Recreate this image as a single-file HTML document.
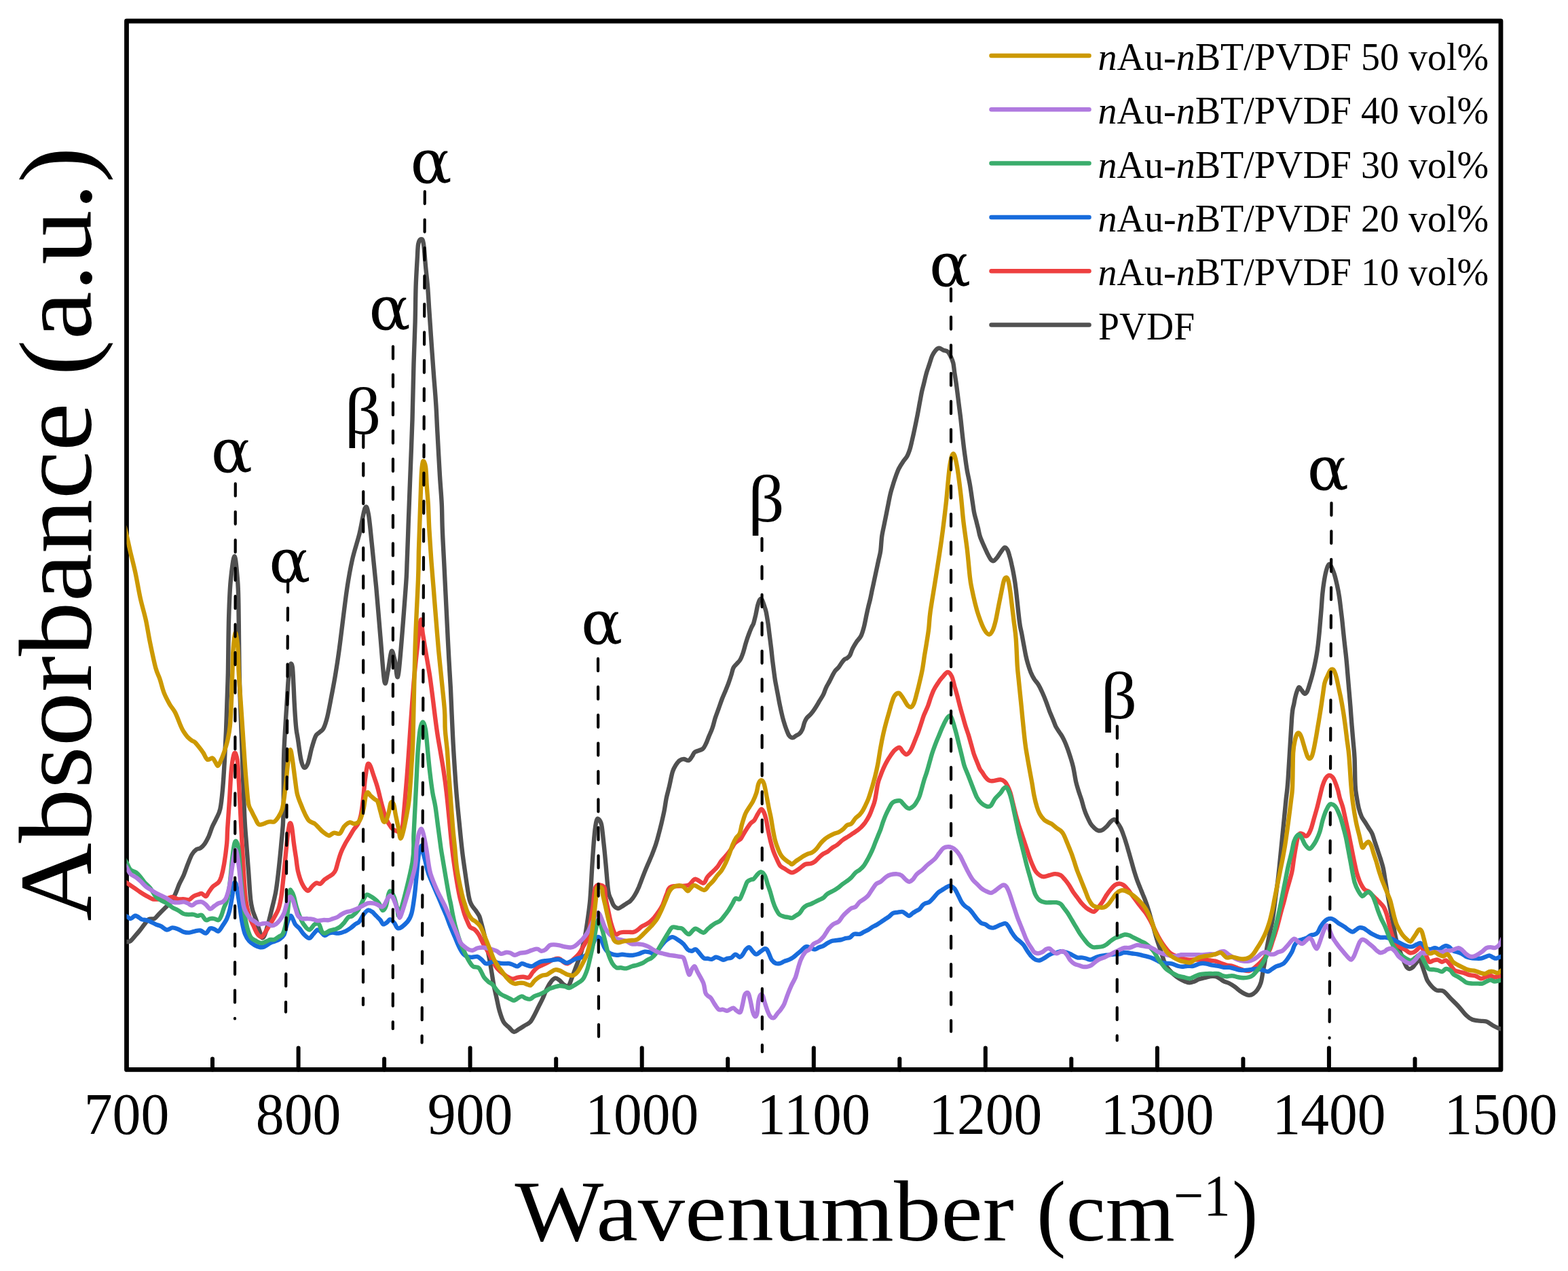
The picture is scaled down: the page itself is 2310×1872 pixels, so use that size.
<!DOCTYPE html>
<html><head><meta charset="utf-8"><title>FTIR spectra</title>
<style>
html,body{margin:0;padding:0;background:#fff;}
svg{display:block;}
text{font-family:'Liberation Serif', 'DejaVu Serif', serif;fill:#000;}
</style></head><body>
<svg xmlns="http://www.w3.org/2000/svg" width="2310" height="1872" viewBox="0 0 2310 1872">
<rect x="0" y="0" width="2310" height="1872" fill="#fff"/>

<defs><clipPath id="pc"><rect x="186.5" y="31.0" width="2024.5" height="1544.4"/></clipPath></defs>
<rect x="186.5" y="31.0" width="2024.5" height="1544.4" fill="none" stroke="#000" stroke-width="6.8" stroke-linejoin="round"/>
<g stroke="#000" stroke-width="6" stroke-linecap="round"><line x1="313.0" y1="1575.4" x2="313.0" y2="1559.4"/><line x1="439.6" y1="1575.4" x2="439.6" y2="1543.4"/><line x1="566.1" y1="1575.4" x2="566.1" y2="1559.4"/><line x1="692.6" y1="1575.4" x2="692.6" y2="1543.4"/><line x1="819.2" y1="1575.4" x2="819.2" y2="1559.4"/><line x1="945.7" y1="1575.4" x2="945.7" y2="1543.4"/><line x1="1072.2" y1="1575.4" x2="1072.2" y2="1559.4"/><line x1="1198.8" y1="1575.4" x2="1198.8" y2="1543.4"/><line x1="1325.3" y1="1575.4" x2="1325.3" y2="1559.4"/><line x1="1451.8" y1="1575.4" x2="1451.8" y2="1543.4"/><line x1="1578.3" y1="1575.4" x2="1578.3" y2="1559.4"/><line x1="1704.9" y1="1575.4" x2="1704.9" y2="1543.4"/><line x1="1831.4" y1="1575.4" x2="1831.4" y2="1559.4"/><line x1="1957.9" y1="1575.4" x2="1957.9" y2="1543.4"/><line x1="2084.5" y1="1575.4" x2="2084.5" y2="1559.4"/></g>
<g clip-path="url(#pc)" fill="none" stroke-width="6.4" stroke-linejoin="round" stroke-linecap="round">
<path d="M184.0,1387.6 C184.5,1387.5 185.8,1387.3 187.2,1387.0 C188.6,1386.7 190.1,1387.7 192.3,1385.9 C194.6,1384.2 198.2,1379.4 200.6,1376.7 C203.0,1374.0 204.7,1372.1 206.7,1369.5 C208.8,1366.9 210.8,1363.8 212.9,1361.3 C215.0,1358.7 216.7,1355.5 219.1,1354.1 C221.5,1352.7 224.9,1354.3 227.3,1353.1 C229.7,1351.9 231.1,1349.3 233.5,1346.9 C235.9,1344.5 238.9,1341.4 241.7,1338.7 C244.4,1335.9 247.2,1334.0 249.9,1330.4 C252.6,1326.8 255.7,1321.9 258.1,1317.1 C260.5,1312.3 262.2,1306.3 264.3,1301.7 C266.3,1297.0 268.4,1294.1 270.5,1289.3 C272.5,1284.5 274.6,1278.0 276.6,1272.9 C278.7,1267.7 280.7,1262.1 282.8,1258.5 C284.9,1254.9 286.9,1252.8 289.0,1251.3 C291.0,1249.7 293.1,1250.6 295.1,1249.2 C297.2,1247.9 299.2,1246.0 301.3,1243.1 C303.4,1240.1 305.5,1236.0 307.5,1231.8 C309.4,1227.5 311.0,1221.6 312.9,1217.3 C314.8,1213.0 316.7,1210.1 318.6,1205.8 C320.5,1201.5 322.8,1198.6 324.4,1191.4 C326.0,1184.2 326.9,1174.7 328.0,1162.7 C329.1,1150.7 330.1,1133.9 330.9,1119.5 C331.7,1105.1 332.4,1090.7 333.0,1076.3 C333.6,1061.9 334.0,1047.6 334.5,1033.2 C335.0,1018.8 335.4,1011.0 335.9,990.0 C336.3,969.0 336.5,929.7 337.2,907.3 C337.9,884.9 338.4,870.1 339.8,855.4 C341.2,840.7 343.8,819.2 345.5,819.2 C347.2,819.2 349.1,843.6 350.1,855.4 C351.1,867.2 351.1,875.6 351.4,890.0 C351.7,904.4 351.8,925.1 352.0,941.8 C352.2,958.5 352.3,974.8 352.6,990.0 C352.9,1005.2 353.3,1016.4 353.9,1033.2 C354.5,1050.0 355.3,1071.5 356.0,1090.7 C356.7,1109.9 357.5,1129.1 358.2,1148.3 C358.9,1167.5 359.6,1190.2 360.4,1205.8 C361.2,1221.4 362.0,1229.1 363.0,1242.0 C363.9,1254.9 365.0,1269.4 366.1,1283.2 C367.1,1296.9 368.1,1314.7 369.1,1324.3 C370.2,1333.9 370.9,1335.6 372.2,1340.7 C373.6,1345.9 375.7,1350.0 377.4,1355.1 C379.1,1360.2 381.1,1367.3 382.5,1371.6 C383.9,1375.8 384.4,1379.8 385.6,1380.8 C386.8,1381.8 388.2,1381.0 389.7,1377.7 C391.2,1374.5 393.1,1367.4 394.8,1361.3 C396.6,1355.1 398.1,1348.6 400.0,1340.7 C401.9,1332.8 404.4,1323.6 406.2,1314.0 C407.9,1304.4 408.9,1295.1 410.3,1283.2 C411.6,1271.2 413.2,1255.7 414.4,1242.0 C415.6,1228.3 416.9,1221.3 417.5,1200.9 C418.1,1180.6 417.6,1140.2 418.0,1120.0 C418.4,1099.8 419.1,1092.6 419.8,1079.8 C420.5,1067.0 421.3,1055.3 422.1,1043.0 C422.9,1030.7 423.7,1015.7 424.4,1006.0 C425.1,996.3 425.8,989.8 426.5,985.0 C427.2,980.2 427.9,977.8 428.6,977.5 C429.3,977.2 430.3,978.2 430.9,983.0 C431.5,987.8 431.9,997.5 432.3,1006.0 C432.8,1014.5 433.2,1025.2 433.6,1033.7 C434.1,1042.2 434.5,1049.9 435.0,1056.8 C435.5,1063.7 435.9,1069.5 436.6,1075.0 C437.3,1080.5 438.0,1082.7 439.1,1090.0 C440.2,1097.3 441.9,1112.1 443.4,1118.8 C444.9,1125.5 446.2,1129.4 447.9,1130.4 C449.6,1131.4 451.6,1129.4 453.5,1124.6 C455.4,1119.8 457.4,1108.2 459.3,1101.5 C461.2,1094.8 463.1,1088.0 465.0,1084.2 C466.9,1080.4 468.9,1080.4 470.8,1078.5 C472.7,1076.6 474.7,1076.5 476.6,1072.7 C478.5,1068.9 480.4,1063.1 482.3,1055.4 C484.2,1047.7 486.2,1036.6 488.1,1026.5 C490.0,1016.4 492.0,1006.5 493.9,995.0 C495.8,983.5 496.7,978.7 499.6,957.6 C502.5,936.5 507.7,891.0 511.0,868.6 C514.3,846.2 516.1,837.1 519.2,823.4 C522.3,809.6 526.4,798.9 529.5,786.3 C532.6,773.8 535.5,753.1 537.7,748.3 C540.0,743.5 541.2,748.5 542.9,757.6 C544.6,766.6 546.1,785.0 548.0,802.8 C549.9,820.6 552.1,842.2 554.2,864.5 C556.2,886.7 558.3,913.1 560.3,936.4 C562.4,959.7 564.6,995.7 566.5,1004.3 C568.4,1012.8 569.9,995.4 571.7,987.8 C573.4,980.3 575.1,961.4 576.8,959.0 C578.5,956.6 580.2,968.0 581.9,973.4 C583.6,978.9 584.5,1009.6 587.1,991.9 C589.7,974.2 595.5,894.9 597.6,867.3 C599.7,839.6 599.0,841.9 599.7,825.8 C600.4,809.7 601.1,789.0 601.7,770.5 C602.4,752.1 602.9,740.7 603.8,715.3 C604.8,689.8 606.5,647.8 607.5,617.8 C608.4,587.9 608.8,559.6 609.5,535.6 C610.2,511.6 611.1,492.8 611.6,473.9 C612.1,455.1 612.1,437.9 612.6,422.5 C613.1,407.1 614.1,392.0 614.7,381.4 C615.3,370.8 615.3,363.6 616.3,358.8 C617.3,353.9 619.6,352.2 620.8,352.2 C622.1,352.2 622.9,352.2 623.9,358.8 C625.0,365.4 626.0,381.1 627.0,391.7 C628.0,402.3 629.2,412.2 630.1,422.5 C630.9,432.8 631.5,443.1 632.1,453.4 C632.8,463.6 633.5,473.9 634.2,484.2 C634.9,494.5 635.4,503.0 636.3,515.0 C637.1,527.0 638.3,542.4 639.3,556.2 C640.4,569.9 641.6,583.6 642.4,597.3 C643.3,611.0 643.5,621.0 644.5,638.4 C645.4,655.8 647.0,684.0 648.0,701.5 C649.1,718.9 650.2,729.8 650.8,742.9 C651.4,756.0 651.2,765.8 651.8,780.0 C652.3,794.2 653.4,812.3 654.2,828.4 C655.0,844.5 655.8,860.6 656.6,876.8 C657.4,892.9 658.2,909.0 659.0,925.2 C659.8,941.3 660.6,958.8 661.5,973.5 C662.3,988.3 662.9,995.3 663.9,1013.9 C664.8,1032.5 666.0,1064.7 667.1,1085.1 C668.1,1105.6 669.2,1121.1 670.2,1136.5 C671.2,1151.9 672.2,1165.6 673.3,1177.6 C674.3,1189.6 675.1,1196.5 676.3,1208.5 C677.5,1220.5 679.1,1237.6 680.5,1249.6 C681.8,1261.6 682.9,1268.6 684.6,1280.4 C686.3,1292.3 689.0,1311.8 690.7,1320.5 C692.4,1329.3 693.1,1329.4 694.8,1332.9 C696.5,1336.3 699.0,1338.3 700.9,1341.1 C702.8,1343.8 704.7,1346.2 706.1,1349.3 C707.4,1352.4 707.9,1355.1 709.1,1359.6 C710.3,1364.0 711.9,1370.2 713.3,1376.0 C714.6,1381.8 716.0,1388.0 717.4,1394.5 C718.7,1401.0 720.3,1408.5 721.5,1415.0 C722.7,1421.5 723.5,1427.4 724.6,1433.5 C725.6,1439.7 726.4,1445.9 727.6,1452.0 C728.8,1458.2 730.4,1464.3 731.7,1470.5 C733.1,1476.7 734.1,1483.2 735.9,1489.0 C737.6,1494.8 739.6,1501.3 742.0,1505.4 C744.4,1509.5 747.7,1511.2 750.2,1513.6 C752.8,1516.0 755.0,1519.5 757.4,1519.8 C759.8,1520.1 762.0,1517.2 764.6,1515.7 C767.2,1514.2 770.1,1512.3 772.8,1510.6 C775.6,1508.8 778.6,1508.0 781.0,1505.4 C783.4,1502.9 785.2,1498.9 787.2,1495.2 C789.3,1491.4 791.3,1486.9 793.4,1482.8 C795.4,1478.7 797.5,1475.0 799.5,1470.5 C801.6,1466.1 803.6,1460.2 805.7,1456.1 C807.7,1452.0 809.8,1448.4 811.9,1445.9 C813.9,1443.3 816.0,1441.1 818.0,1440.7 C820.1,1440.4 822.1,1442.3 824.2,1443.8 C826.2,1445.3 828.1,1448.6 830.3,1450.0 C832.6,1451.3 835.5,1453.7 837.5,1452.0 C839.6,1450.3 840.8,1444.5 842.7,1439.7 C844.6,1434.9 846.8,1428.7 848.8,1423.3 C850.9,1417.8 852.9,1413.7 855.0,1406.8 C857.1,1400.0 859.4,1390.4 861.2,1382.2 C862.9,1374.0 863.9,1367.1 865.3,1357.5 C866.6,1347.9 868.1,1339.2 869.4,1324.7 C870.6,1310.1 871.6,1286.1 872.7,1270.2 C873.8,1254.2 874.7,1239.3 875.8,1229.0 C876.8,1218.8 877.8,1212.2 878.9,1208.5 C879.9,1204.7 880.7,1205.4 881.9,1206.4 C883.1,1207.4 884.9,1209.2 886.1,1214.6 C887.3,1220.1 888.1,1230.1 889.1,1239.3 C890.2,1248.6 891.1,1258.0 892.2,1270.2 C893.4,1282.3 894.8,1303.2 896.1,1312.3 C897.4,1321.4 898.8,1321.1 900.2,1324.7 C901.6,1328.2 902.6,1331.7 904.3,1333.9 C906.0,1336.1 908.4,1337.8 910.5,1338.0 C912.5,1338.2 914.6,1336.1 916.6,1334.9 C918.7,1333.7 920.7,1332.2 922.8,1330.8 C924.8,1329.4 926.9,1328.8 928.9,1326.7 C931.0,1324.7 933.1,1321.9 935.1,1318.5 C937.2,1315.1 939.0,1311.5 941.3,1306.2 C943.5,1300.8 946.7,1291.9 948.8,1286.6 C950.9,1281.3 952.0,1278.7 953.9,1274.3 C955.8,1269.8 958.0,1265.0 960.1,1259.9 C962.1,1254.7 964.5,1248.6 966.2,1243.4 C967.9,1238.3 969.0,1234.2 970.3,1229.0 C971.7,1223.9 973.1,1218.4 974.5,1212.6 C975.8,1206.8 977.4,1200.2 978.6,1194.1 C979.8,1187.9 980.5,1181.4 981.7,1175.6 C982.9,1169.8 984.2,1165.6 985.8,1159.1 C987.3,1152.6 989.2,1142.0 990.9,1136.5 C992.6,1131.0 994.3,1129.0 996.0,1126.2 C997.8,1123.5 999.3,1121.4 1001.2,1120.1 C1003.1,1118.7 1005.1,1118.0 1007.4,1118.0 C1009.6,1118.0 1012.5,1120.8 1014.5,1120.1 C1016.6,1119.4 1018.1,1116.0 1019.7,1113.9 C1021.2,1111.8 1021.2,1109.5 1023.8,1107.7 C1026.4,1105.9 1032.4,1105.2 1035.1,1103.1 C1037.9,1100.9 1038.7,1097.9 1040.3,1094.8 C1041.8,1091.7 1042.8,1088.3 1044.4,1084.5 C1045.9,1080.8 1048.0,1076.7 1049.5,1072.2 C1051.1,1067.8 1052.1,1062.6 1053.6,1057.8 C1055.2,1053.0 1057.1,1048.2 1058.8,1043.4 C1060.5,1038.6 1062.2,1033.5 1063.9,1029.0 C1065.6,1024.6 1067.5,1020.5 1069.1,1016.7 C1070.6,1012.9 1071.8,1010.2 1073.2,1006.4 C1074.5,1002.7 1076.1,997.9 1077.3,994.1 C1078.5,990.3 1079.0,986.6 1080.4,983.8 C1081.7,981.1 1083.8,979.7 1085.5,977.6 C1087.2,975.6 1089.1,974.2 1090.6,971.5 C1092.2,968.7 1093.4,965.3 1094.8,961.2 C1096.1,957.1 1097.5,951.3 1098.9,946.8 C1100.2,942.3 1101.6,938.2 1103.0,934.5 C1104.4,930.7 1105.9,926.9 1107.1,924.2 C1108.3,921.4 1109.2,921.1 1110.2,918.0 C1111.2,914.9 1112.2,910.1 1113.3,905.7 C1114.3,901.2 1115.3,895.1 1116.3,891.3 C1117.4,887.5 1118.4,884.4 1119.4,883.1 C1120.5,881.7 1121.5,881.7 1122.5,883.1 C1123.5,884.4 1124.6,888.2 1125.6,891.3 C1126.6,894.4 1127.7,896.8 1128.7,901.6 C1129.7,906.4 1130.9,914.3 1131.8,920.1 C1132.6,925.9 1133.1,931.0 1133.8,936.5 C1134.5,942.0 1135.2,947.1 1135.9,953.0 C1136.6,958.8 1137.3,965.6 1137.9,971.5 C1138.6,977.3 1139.3,982.8 1140.0,987.9 C1140.7,993.1 1141.2,997.2 1142.0,1002.3 C1142.9,1007.5 1144.1,1013.3 1145.1,1018.8 C1146.2,1024.2 1147.2,1030.1 1148.2,1035.2 C1149.2,1040.3 1150.3,1045.1 1151.3,1049.6 C1152.3,1054.1 1153.2,1057.8 1154.4,1061.9 C1155.6,1066.0 1157.1,1070.7 1158.5,1074.3 C1159.9,1077.9 1161.1,1081.5 1162.6,1083.5 C1164.1,1085.6 1166.0,1086.6 1167.7,1086.6 C1169.5,1086.6 1171.2,1084.5 1172.9,1083.5 C1174.6,1082.5 1176.5,1082.0 1178.0,1080.4 C1179.6,1078.9 1180.9,1077.0 1182.1,1074.3 C1183.3,1071.5 1184.2,1066.7 1185.2,1064.0 C1186.2,1061.2 1186.8,1059.9 1188.3,1057.8 C1189.8,1055.8 1192.4,1054.1 1194.5,1051.7 C1196.5,1049.3 1198.6,1046.5 1200.6,1043.4 C1202.7,1040.3 1204.8,1036.6 1206.8,1033.2 C1208.9,1029.7 1211.3,1026.3 1213.0,1022.9 C1214.7,1019.4 1215.5,1015.8 1217.1,1012.6 C1218.6,1009.3 1220.7,1006.3 1222.2,1003.3 C1223.8,1000.4 1225.0,997.7 1226.3,995.1 C1227.7,992.5 1228.9,990.0 1230.5,987.9 C1232.0,985.9 1234.1,984.7 1235.6,982.8 C1237.1,980.9 1238.3,978.5 1239.7,976.6 C1241.1,974.7 1242.4,972.7 1243.8,971.5 C1245.2,970.3 1246.6,970.4 1247.9,969.4 C1249.3,968.4 1250.7,967.7 1252.0,965.3 C1253.4,962.9 1254.4,958.5 1256.2,955.0 C1257.9,951.6 1260.3,947.8 1262.3,944.7 C1264.4,941.7 1266.8,939.9 1268.5,936.5 C1270.2,933.1 1271.4,928.6 1272.6,924.2 C1273.8,919.7 1274.7,914.6 1275.7,909.8 C1276.7,905.0 1277.7,899.9 1278.8,895.4 C1279.8,891.0 1280.8,887.5 1281.9,883.1 C1282.9,878.6 1283.9,873.5 1284.9,868.7 C1286.0,863.9 1287.0,859.1 1288.0,854.3 C1289.0,849.5 1290.1,844.7 1291.1,839.9 C1292.1,835.1 1293.2,830.3 1294.2,825.5 C1295.2,820.7 1296.4,817.2 1297.3,811.1 C1298.1,805.1 1298.3,796.3 1299.3,789.2 C1300.4,782.2 1302.1,775.5 1303.4,768.7 C1304.8,761.8 1306.2,755.0 1307.5,748.1 C1308.9,741.3 1310.3,733.4 1311.7,727.5 C1313.0,721.7 1314.4,717.6 1315.8,713.2 C1317.1,708.7 1318.5,704.6 1319.9,700.8 C1321.3,697.1 1322.3,694.0 1324.0,690.5 C1325.7,687.1 1328.1,683.3 1330.2,680.3 C1332.2,677.2 1334.6,675.1 1336.3,672.0 C1338.0,669.0 1339.2,665.5 1340.4,661.8 C1341.6,658.0 1342.3,654.6 1343.5,649.4 C1344.7,644.3 1346.3,637.4 1347.6,630.9 C1349.0,624.4 1350.6,616.5 1351.8,610.4 C1353.0,604.2 1353.8,599.4 1354.8,593.9 C1355.9,588.4 1356.9,582.3 1357.9,577.5 C1358.9,572.7 1359.8,569.9 1361.0,565.1 C1362.2,560.3 1363.7,553.5 1365.1,548.7 C1366.5,543.9 1367.9,540.5 1369.2,536.3 C1370.6,532.2 1371.8,527.4 1373.3,524.0 C1374.9,520.6 1376.8,517.7 1378.5,515.8 C1380.2,513.9 1381.7,512.7 1383.6,512.7 C1385.5,512.7 1387.7,514.9 1389.8,515.8 C1391.8,516.6 1394.2,516.5 1396.0,517.8 C1397.7,519.2 1398.7,521.3 1400.1,524.0 C1401.4,526.8 1403.1,530.2 1404.2,534.3 C1405.2,538.4 1405.4,542.9 1406.2,548.7 C1407.1,554.5 1408.3,561.7 1409.3,569.2 C1410.3,576.8 1411.4,585.7 1412.4,593.9 C1413.4,602.1 1414.5,609.7 1415.5,618.6 C1416.5,627.5 1417.5,638.5 1418.6,647.4 C1419.6,656.3 1420.6,664.5 1421.7,672.0 C1422.7,679.6 1423.5,685.7 1424.7,692.6 C1425.9,699.5 1427.6,706.3 1428.8,713.2 C1430.0,720.0 1430.9,726.9 1431.9,733.7 C1433.0,740.6 1434.0,748.8 1435.0,754.3 C1436.0,759.8 1437.1,762.5 1438.1,766.6 C1439.1,770.7 1440.2,775.0 1441.2,778.9 C1442.1,782.9 1442.5,786.4 1443.9,790.4 C1445.2,794.3 1447.3,798.8 1449.0,802.8 C1450.8,806.8 1452.5,810.8 1454.2,814.2 C1456.0,817.7 1457.9,821.6 1459.4,823.6 C1461.0,825.5 1462.0,826.5 1463.6,826.2 C1465.1,825.8 1466.8,823.8 1468.7,821.5 C1470.6,819.2 1473.1,814.7 1475.0,812.2 C1476.9,809.6 1478.6,806.8 1480.2,806.4 C1481.7,806.1 1483.1,807.9 1484.3,810.1 C1485.5,812.2 1486.4,815.8 1487.4,819.4 C1488.5,823.0 1489.5,827.2 1490.5,831.9 C1491.6,836.5 1492.6,841.4 1493.6,847.4 C1494.7,853.5 1495.4,856.8 1496.7,868.2 C1498.1,879.5 1500.5,905.0 1501.9,915.7 C1503.2,926.4 1503.9,926.7 1505.0,932.1 C1506.0,937.6 1507.0,943.1 1508.0,948.6 C1509.1,954.1 1510.1,960.2 1511.1,965.0 C1512.1,969.8 1513.0,973.3 1514.2,977.4 C1515.4,981.5 1516.8,985.9 1518.3,989.7 C1519.9,993.5 1521.6,996.9 1523.5,1000.0 C1525.3,1003.1 1527.6,1004.8 1529.6,1008.2 C1531.7,1011.6 1533.9,1016.4 1535.8,1020.5 C1537.7,1024.7 1539.2,1028.4 1540.9,1032.9 C1542.6,1037.3 1544.4,1042.8 1546.1,1047.3 C1547.8,1051.7 1549.7,1055.8 1551.2,1059.6 C1552.8,1063.4 1553.8,1066.8 1555.3,1069.9 C1556.9,1073.0 1558.9,1075.7 1560.5,1078.1 C1562.0,1080.5 1563.2,1081.9 1564.6,1084.3 C1565.9,1086.7 1567.3,1089.4 1568.7,1092.5 C1570.1,1095.6 1571.4,1099.0 1572.8,1102.8 C1574.2,1106.5 1575.5,1110.7 1576.9,1115.1 C1578.3,1119.6 1579.6,1123.5 1581.0,1129.5 C1582.4,1135.6 1583.8,1145.3 1585.1,1151.4 C1586.5,1157.4 1587.9,1161.3 1589.2,1165.8 C1590.6,1170.2 1592.0,1173.7 1593.4,1178.1 C1594.7,1182.6 1596.1,1188.4 1597.5,1192.5 C1598.8,1196.6 1600.0,1199.4 1601.6,1202.8 C1603.1,1206.2 1605.0,1210.3 1606.7,1213.1 C1608.4,1215.8 1610.0,1217.5 1611.9,1219.2 C1613.7,1221.0 1616.0,1222.8 1618.0,1223.3 C1620.1,1223.9 1622.1,1223.3 1624.2,1222.3 C1626.2,1221.3 1628.3,1219.2 1630.4,1217.2 C1632.4,1215.1 1634.6,1211.7 1636.5,1210.0 C1638.4,1208.3 1640.1,1206.7 1641.7,1206.9 C1643.2,1207.1 1644.2,1209.0 1645.8,1211.0 C1647.3,1213.1 1649.4,1216.2 1650.9,1219.2 C1652.5,1222.3 1653.7,1225.7 1655.0,1229.5 C1656.4,1233.3 1657.8,1237.4 1659.1,1241.9 C1660.5,1246.3 1661.9,1251.4 1663.3,1256.2 C1664.6,1261.0 1666.0,1265.8 1667.4,1270.6 C1668.7,1275.4 1670.1,1280.6 1671.5,1285.0 C1672.9,1289.5 1674.2,1293.6 1675.6,1297.4 C1677.0,1301.1 1678.3,1304.2 1679.7,1307.6 C1681.1,1311.1 1682.4,1314.5 1683.8,1317.9 C1685.2,1321.3 1686.6,1324.4 1687.9,1328.2 C1689.3,1332.0 1690.7,1336.1 1692.0,1340.5 C1693.4,1345.0 1694.8,1350.1 1696.2,1354.9 C1697.5,1359.7 1698.9,1364.5 1700.3,1369.3 C1701.6,1374.1 1703.0,1379.3 1704.4,1383.7 C1705.7,1388.2 1707.1,1391.9 1708.5,1396.0 C1709.9,1400.2 1711.2,1404.3 1712.6,1408.4 C1714.0,1412.5 1715.0,1417.3 1716.7,1420.7 C1718.4,1424.1 1720.8,1426.5 1722.9,1428.9 C1724.9,1431.3 1726.6,1433.1 1729.0,1435.1 C1731.4,1437.2 1734.5,1439.6 1737.3,1441.3 C1740.0,1443.0 1742.9,1444.4 1745.5,1445.4 C1748.1,1446.4 1750.3,1447.4 1752.7,1447.4 C1755.1,1447.4 1757.7,1446.2 1759.9,1445.4 C1762.1,1444.5 1763.7,1443.2 1766.1,1442.3 C1768.5,1441.4 1771.5,1440.9 1774.3,1440.2 C1777.0,1439.6 1779.8,1438.5 1782.5,1438.2 C1785.2,1437.8 1788.3,1437.7 1790.7,1438.2 C1793.1,1438.7 1794.8,1440.1 1796.9,1441.3 C1798.9,1442.5 1800.7,1444.2 1803.1,1445.4 C1805.5,1446.6 1808.5,1447.1 1811.3,1448.5 C1814.0,1449.8 1817.1,1451.9 1819.5,1453.6 C1821.9,1455.3 1823.3,1457.0 1825.7,1458.8 C1828.1,1460.5 1831.5,1462.7 1833.9,1463.9 C1836.3,1465.1 1838.0,1465.9 1840.1,1465.9 C1842.1,1465.9 1844.2,1465.3 1846.2,1463.9 C1848.3,1462.5 1850.5,1460.5 1852.4,1457.7 C1854.3,1455.0 1856.2,1451.9 1857.5,1447.4 C1858.9,1443.0 1859.6,1436.5 1860.6,1431.0 C1861.7,1425.5 1862.7,1420.7 1863.7,1414.5 C1864.7,1408.4 1865.6,1400.8 1866.8,1394.0 C1868.0,1387.1 1869.5,1380.3 1870.9,1373.4 C1872.3,1366.6 1873.6,1361.4 1875.0,1352.9 C1876.4,1344.3 1877.8,1332.3 1879.1,1322.0 C1880.5,1311.8 1881.9,1303.2 1883.2,1291.2 C1884.6,1279.2 1886.0,1263.8 1887.4,1250.1 C1888.7,1236.4 1890.3,1221.0 1891.5,1209.0 C1892.7,1197.0 1893.5,1188.4 1894.5,1178.1 C1895.6,1167.8 1896.2,1167.4 1897.6,1147.3 C1899.1,1127.2 1901.7,1076.0 1903.1,1057.6 C1904.5,1039.3 1905.1,1042.9 1906.2,1037.1 C1907.2,1031.2 1908.1,1026.8 1909.3,1022.7 C1910.5,1018.6 1912.0,1013.4 1913.4,1012.4 C1914.7,1011.4 1916.1,1015.0 1917.5,1016.5 C1918.9,1018.0 1920.2,1021.3 1921.6,1021.6 C1923.0,1022.0 1924.3,1021.1 1925.7,1018.6 C1927.1,1016.0 1928.4,1010.7 1929.8,1006.2 C1931.2,1001.8 1932.6,997.3 1933.9,991.8 C1935.3,986.3 1936.8,979.5 1938.0,973.3 C1939.2,967.1 1940.3,961.0 1941.1,954.8 C1942.0,948.6 1942.5,943.2 1943.2,936.3 C1943.9,929.4 1944.6,920.9 1945.2,913.7 C1945.9,906.5 1946.4,899.6 1946.9,893.1 C1947.4,886.6 1947.7,880.4 1948.3,874.6 C1948.9,868.8 1949.5,863.6 1950.4,858.1 C1951.2,852.7 1952.3,846.2 1953.5,841.7 C1954.7,837.2 1956.2,832.4 1957.6,831.4 C1959.0,830.4 1960.3,833.1 1961.7,835.5 C1963.1,837.9 1964.4,841.4 1965.8,845.8 C1967.2,850.3 1968.7,856.8 1969.9,862.3 C1971.1,867.7 1972.2,873.2 1973.0,878.7 C1973.9,884.2 1974.4,889.7 1975.1,895.2 C1975.7,900.7 1976.4,905.4 1977.1,911.6 C1977.8,917.8 1978.5,925.7 1979.2,932.2 C1979.9,938.7 1980.5,944.5 1981.2,950.7 C1981.9,956.9 1982.6,962.3 1983.3,969.2 C1984.0,976.1 1984.7,983.9 1985.3,991.8 C1986.0,999.7 1986.7,1008.3 1987.4,1016.5 C1988.1,1024.7 1988.8,1032.6 1989.5,1041.2 C1990.1,1049.8 1990.8,1059.3 1991.5,1067.9 C1992.2,1076.5 1992.9,1084.4 1993.6,1092.6 C1994.3,1100.8 1995.1,1106.4 1995.6,1117.3 C1996.1,1128.1 1996.1,1148.1 1996.7,1157.6 C1997.2,1167.0 1997.9,1168.5 1998.7,1174.0 C1999.6,1179.5 2000.6,1185.7 2001.8,1190.5 C2003.0,1195.3 2004.4,1199.4 2005.9,1202.8 C2007.5,1206.2 2009.3,1208.3 2011.1,1211.0 C2012.8,1213.8 2014.5,1216.5 2016.2,1219.3 C2017.9,1222.0 2019.8,1224.1 2021.3,1227.5 C2022.9,1230.9 2024.1,1235.7 2025.4,1239.8 C2026.8,1243.9 2028.2,1248.1 2029.6,1252.2 C2030.9,1256.3 2032.3,1260.1 2033.7,1264.5 C2035.0,1269.0 2036.6,1273.4 2037.8,1278.9 C2039.0,1284.4 2039.8,1291.2 2040.9,1297.4 C2041.9,1303.6 2042.9,1310.1 2044.0,1315.9 C2045.0,1321.7 2046.0,1326.9 2047.0,1332.4 C2048.1,1337.9 2049.1,1343.3 2050.1,1348.8 C2051.2,1354.3 2052.2,1359.8 2053.2,1365.3 C2054.2,1370.8 2055.1,1376.6 2056.3,1381.7 C2057.5,1386.9 2059.0,1392.0 2060.4,1396.1 C2061.8,1400.2 2063.2,1403.0 2064.5,1406.4 C2065.9,1409.8 2067.3,1413.6 2068.6,1416.7 C2070.0,1419.8 2071.4,1423.2 2072.8,1424.9 C2074.1,1426.6 2075.5,1427.0 2076.9,1427.0 C2078.2,1427.0 2079.6,1426.1 2081.0,1424.9 C2082.3,1423.7 2083.7,1421.5 2085.1,1419.8 C2086.5,1418.1 2088.0,1415.5 2089.2,1414.6 C2090.4,1413.8 2091.3,1413.3 2092.3,1414.6 C2093.3,1416.0 2094.2,1419.4 2095.4,1422.9 C2096.6,1426.3 2098.1,1431.4 2099.5,1435.2 C2100.9,1439.0 2101.0,1441.7 2103.6,1445.5 C2106.2,1449.3 2111.3,1455.5 2115.1,1457.9 C2118.8,1460.3 2122.5,1457.6 2126.3,1459.8 C2130.0,1461.9 2133.7,1467.2 2137.5,1471.0 C2141.2,1474.7 2144.9,1478.1 2148.7,1482.2 C2152.4,1486.2 2156.4,1492.0 2159.9,1495.2 C2163.3,1498.5 2165.8,1500.4 2169.2,1501.8 C2172.6,1503.2 2177.0,1503.2 2180.4,1503.6 C2183.8,1504.1 2186.6,1503.5 2189.7,1504.6 C2192.9,1505.7 2196.0,1508.5 2199.1,1510.2 C2202.2,1511.9 2205.9,1514.0 2208.4,1514.8 C2210.9,1515.7 2213.1,1515.3 2214.0,1515.4" stroke="#505050"/>
<path d="M184.0,1298.5 C184.5,1298.9 185.1,1299.2 187.2,1300.6 C189.3,1302.0 193.2,1304.6 196.4,1306.8 C199.7,1309.0 203.6,1311.9 206.7,1314.0 C209.8,1316.0 211.9,1317.4 215.0,1319.1 C218.0,1320.8 221.8,1323.4 225.2,1324.3 C228.7,1325.1 232.1,1324.4 235.5,1324.3 C238.9,1324.1 242.7,1323.8 245.8,1323.2 C248.9,1322.7 251.3,1321.0 254.0,1321.2 C256.8,1321.4 259.5,1323.8 262.2,1324.3 C265.0,1324.8 267.7,1324.1 270.5,1324.3 C273.2,1324.4 276.3,1326.0 278.7,1325.3 C281.1,1324.6 282.5,1321.5 284.9,1320.2 C287.3,1318.8 291.0,1317.8 293.1,1317.1 C295.1,1316.4 295.5,1315.5 297.2,1316.0 C298.9,1316.6 301.6,1320.5 303.4,1320.2 C305.1,1319.8 305.8,1316.4 307.5,1314.0 C309.2,1311.6 311.2,1308.2 313.6,1305.8 C316.0,1303.4 319.8,1302.0 321.9,1299.6 C323.9,1297.2 324.6,1295.8 326.0,1291.4 C327.3,1286.9 328.7,1281.1 330.1,1272.9 C331.5,1264.6 333.3,1250.8 334.2,1242.0 C335.0,1233.3 334.5,1231.0 335.2,1220.2 C335.9,1209.4 337.2,1191.4 338.1,1177.0 C339.1,1162.6 339.7,1145.2 340.9,1133.9 C342.1,1122.6 343.9,1111.8 345.3,1109.4 C346.8,1107.0 348.5,1113.0 349.6,1119.5 C350.7,1126.0 351.0,1136.3 351.7,1148.3 C352.4,1160.3 352.7,1168.9 353.9,1191.4 C355.1,1213.9 357.5,1261.0 358.9,1283.2 C360.2,1305.3 360.6,1313.3 361.9,1324.3 C363.3,1335.2 365.2,1342.4 367.1,1348.9 C369.0,1355.5 371.2,1358.9 373.3,1363.3 C375.3,1367.8 377.4,1372.9 379.4,1375.7 C381.5,1378.4 383.5,1380.5 385.6,1379.8 C387.6,1379.1 389.7,1374.6 391.8,1371.6 C393.8,1368.5 395.9,1364.7 397.9,1361.3 C400.0,1357.8 402.0,1354.8 404.1,1351.0 C406.2,1347.2 408.5,1343.8 410.3,1338.7 C412.0,1333.5 413.2,1327.7 414.4,1320.2 C415.6,1312.6 416.4,1303.0 417.5,1293.4 C418.5,1283.8 419.5,1272.9 420.5,1262.6 C421.6,1252.3 422.6,1240.0 423.6,1231.8 C424.7,1223.5 425.7,1215.6 426.7,1213.2 C427.7,1210.9 428.8,1212.6 429.8,1217.4 C430.8,1222.2 431.9,1234.5 432.9,1242.0 C433.9,1249.6 434.9,1255.7 436.0,1262.6 C437.0,1269.4 437.5,1276.6 439.0,1283.2 C440.6,1289.7 442.8,1296.9 445.2,1301.7 C447.6,1306.5 451.0,1311.2 453.4,1311.9 C455.8,1312.6 457.5,1307.7 459.6,1305.8 C461.7,1303.9 463.7,1301.3 465.8,1300.6 C467.8,1299.9 469.9,1302.5 471.9,1301.7 C474.0,1300.8 476.1,1297.2 478.1,1295.5 C480.2,1293.8 482.2,1292.7 484.3,1291.4 C486.3,1290.0 488.7,1289.0 490.4,1287.3 C492.2,1285.5 493.2,1284.5 494.6,1281.1 C495.9,1277.7 497.3,1271.2 498.7,1266.7 C500.0,1262.2 501.1,1258.5 502.8,1254.4 C504.5,1250.3 506.9,1245.8 508.9,1242.0 C511.0,1238.3 513.1,1235.2 515.1,1231.8 C517.2,1228.3 519.2,1224.6 521.3,1221.5 C523.3,1218.4 525.7,1216.7 527.5,1213.2 C529.2,1209.8 530.4,1206.4 531.6,1200.9 C532.8,1195.4 533.6,1188.9 534.6,1180.4 C535.7,1171.8 536.7,1158.1 537.7,1149.5 C538.8,1141.0 540.0,1133.1 540.8,1129.0 C541.7,1124.8 542.0,1124.8 542.9,1124.8 C543.7,1124.8 544.8,1126.2 546.0,1129.0 C547.2,1131.7 548.4,1136.2 550.1,1141.3 C551.8,1146.4 554.2,1152.6 556.2,1159.8 C558.3,1167.0 560.3,1176.9 562.4,1184.5 C564.5,1192.0 566.2,1199.2 568.6,1205.0 C571.0,1210.9 574.4,1216.3 576.8,1219.4 C579.2,1222.5 580.9,1222.5 583.0,1223.5 C585.0,1224.6 587.6,1225.2 589.1,1225.6 C590.7,1225.9 590.5,1238.7 592.2,1225.6 C593.9,1212.5 597.6,1166.8 599.3,1146.8 C600.9,1126.8 601.5,1117.7 602.3,1105.7 C603.2,1093.7 603.2,1091.5 604.4,1074.8 C605.6,1058.2 607.8,1025.8 609.5,1005.7 C611.2,985.6 613.0,969.7 614.7,954.3 C616.4,938.9 618.4,916.6 619.8,913.2 C621.2,909.7 621.5,925.1 622.9,933.7 C624.3,942.3 626.3,954.3 628.0,964.5 C629.7,974.8 631.6,985.1 633.2,995.4 C634.7,1005.7 635.6,1013.0 637.3,1026.2 C639.0,1039.5 641.6,1061.6 643.5,1074.8 C645.3,1088.1 646.9,1095.4 648.6,1105.7 C650.3,1116.0 652.2,1126.2 653.7,1136.5 C655.3,1146.8 656.5,1155.4 657.8,1167.4 C659.2,1179.3 660.6,1194.8 662.0,1208.5 C663.3,1222.2 664.7,1237.6 666.1,1249.6 C667.4,1261.6 668.5,1269.3 670.2,1280.4 C671.9,1291.6 674.6,1307.7 676.3,1316.4 C678.0,1325.2 679.0,1327.7 680.4,1332.9 C681.8,1338.0 683.1,1343.1 684.5,1347.2 C685.9,1351.4 687.2,1354.4 688.6,1357.5 C690.0,1360.6 691.0,1363.9 692.7,1365.7 C694.4,1367.6 696.8,1367.1 698.9,1368.8 C700.9,1370.5 703.3,1373.4 705.0,1376.0 C706.7,1378.6 707.8,1381.5 709.1,1384.2 C710.5,1387.0 711.5,1389.4 713.3,1392.4 C715.0,1395.5 717.4,1398.9 719.4,1402.7 C721.5,1406.5 723.5,1411.3 725.6,1415.0 C727.6,1418.8 729.7,1422.6 731.7,1425.3 C733.8,1428.0 735.5,1429.4 737.9,1431.5 C740.3,1433.5 743.4,1435.9 746.1,1437.6 C748.9,1439.3 751.6,1441.4 754.3,1441.7 C757.1,1442.1 759.8,1440.2 762.6,1439.7 C765.3,1439.2 768.0,1438.7 770.8,1438.7 C773.5,1438.7 776.6,1440.9 779.0,1439.7 C781.4,1438.5 783.1,1433.9 785.2,1431.5 C787.2,1429.1 788.9,1427.0 791.3,1425.3 C793.7,1423.6 796.8,1422.6 799.5,1421.2 C802.3,1419.8 805.0,1418.5 807.7,1417.1 C810.5,1415.7 813.2,1413.8 816.0,1413.0 C818.7,1412.1 821.8,1411.3 824.2,1412.0 C826.6,1412.6 828.3,1415.9 830.3,1417.1 C832.4,1418.3 834.1,1419.8 836.5,1419.1 C838.9,1418.5 842.0,1415.4 844.7,1413.0 C847.5,1410.6 850.5,1407.8 852.9,1404.8 C855.3,1401.7 857.1,1398.3 859.1,1394.5 C861.2,1390.7 863.6,1387.6 865.3,1382.2 C867.0,1376.7 868.0,1369.5 869.4,1361.6 C870.7,1353.8 872.1,1344.2 873.5,1334.9 C874.9,1325.7 874.9,1311.0 877.6,1306.2 C880.3,1301.4 887.5,1303.8 889.9,1306.2 C892.3,1308.6 890.9,1314.7 892.0,1320.5 C893.0,1326.4 894.7,1334.6 896.1,1341.1 C897.5,1347.6 898.5,1353.8 900.2,1359.6 C901.9,1365.4 904.3,1373.6 906.4,1376.0 C908.4,1378.4 910.5,1374.5 912.5,1374.0 C914.6,1373.4 916.3,1373.1 918.7,1372.9 C921.1,1372.8 924.5,1372.9 926.9,1372.9 C929.3,1372.9 931.0,1373.4 933.1,1372.9 C935.1,1372.4 937.2,1371.2 939.2,1369.8 C941.3,1368.5 943.3,1366.1 945.4,1364.7 C947.4,1363.3 949.5,1362.8 951.5,1361.6 C953.6,1360.4 955.7,1359.2 957.7,1357.5 C959.8,1355.8 961.8,1353.8 963.9,1351.4 C965.9,1349.0 968.0,1346.2 970.0,1343.1 C972.1,1340.1 974.1,1337.3 976.2,1332.9 C978.2,1328.4 980.3,1320.9 982.4,1316.4 C984.4,1312.0 983.4,1308.2 988.5,1306.2 C993.7,1304.1 1007.3,1306.0 1013.2,1304.1 C1019.1,1302.2 1020.0,1295.4 1023.8,1294.8 C1027.6,1294.3 1033.1,1301.3 1036.2,1300.7 C1039.3,1300.2 1039.9,1294.4 1042.3,1291.5 C1044.7,1288.6 1048.2,1285.6 1050.6,1283.2 C1053.0,1280.8 1054.7,1279.6 1056.7,1277.1 C1058.8,1274.5 1060.5,1270.9 1062.9,1267.8 C1065.3,1264.7 1068.7,1261.5 1071.1,1258.6 C1073.5,1255.7 1075.4,1253.1 1077.3,1250.3 C1079.2,1247.6 1080.7,1244.2 1082.4,1242.1 C1084.1,1240.1 1086.0,1239.2 1087.6,1238.0 C1089.1,1236.8 1090.3,1236.6 1091.7,1234.9 C1093.0,1233.2 1094.2,1230.3 1095.8,1227.7 C1097.3,1225.2 1099.2,1222.1 1100.9,1219.5 C1102.6,1216.9 1104.4,1214.2 1106.1,1212.3 C1107.8,1210.4 1109.5,1210.4 1111.2,1208.2 C1112.9,1206.0 1114.6,1201.7 1116.3,1199.0 C1118.1,1196.2 1119.9,1192.1 1121.5,1191.8 C1123.0,1191.4 1124.4,1194.3 1125.6,1196.9 C1126.8,1199.5 1127.7,1202.7 1128.7,1207.2 C1129.7,1211.6 1130.7,1218.5 1131.8,1223.6 C1132.8,1228.8 1133.7,1233.2 1134.9,1238.0 C1136.1,1242.8 1137.4,1248.0 1139.0,1252.4 C1140.5,1256.9 1142.4,1261.0 1144.1,1264.7 C1145.8,1268.5 1147.4,1272.6 1149.2,1275.0 C1151.1,1277.4 1153.4,1277.8 1155.4,1279.1 C1157.5,1280.5 1159.7,1282.2 1161.6,1283.2 C1163.5,1284.3 1165.0,1285.3 1166.7,1285.3 C1168.4,1285.3 1170.0,1284.3 1171.9,1283.2 C1173.7,1282.2 1175.6,1280.8 1178.0,1279.1 C1180.4,1277.4 1183.5,1274.2 1186.2,1273.0 C1189.0,1271.8 1192.1,1272.6 1194.5,1271.9 C1196.9,1271.3 1198.6,1270.4 1200.6,1268.9 C1202.7,1267.3 1204.8,1264.6 1206.8,1262.7 C1208.9,1260.8 1210.9,1258.9 1213.0,1257.5 C1215.0,1256.2 1217.1,1255.8 1219.1,1254.5 C1221.2,1253.1 1222.9,1251.0 1225.3,1249.3 C1227.7,1247.6 1230.8,1246.2 1233.5,1244.2 C1236.3,1242.1 1239.0,1239.0 1241.8,1237.0 C1244.5,1234.9 1247.6,1233.4 1250.0,1231.8 C1252.4,1230.3 1254.1,1229.1 1256.2,1227.7 C1258.2,1226.4 1260.3,1225.2 1262.3,1223.6 C1264.4,1222.1 1266.4,1220.5 1268.5,1218.5 C1270.5,1216.4 1272.6,1214.2 1274.7,1211.3 C1276.7,1208.4 1279.1,1204.4 1280.8,1201.0 C1282.5,1197.6 1283.6,1194.5 1284.9,1190.7 C1286.3,1187.0 1287.7,1184.4 1289.0,1178.4 C1290.4,1172.3 1291.8,1160.5 1293.2,1154.5 C1294.5,1148.4 1295.9,1145.9 1297.3,1142.1 C1298.6,1138.3 1299.8,1135.3 1301.4,1131.8 C1302.9,1128.4 1304.8,1124.6 1306.5,1121.6 C1308.2,1118.5 1309.8,1116.1 1311.7,1113.3 C1313.5,1110.6 1315.6,1107.2 1317.8,1105.1 C1320.1,1103.1 1323.0,1100.7 1325.0,1101.0 C1327.1,1101.3 1328.5,1105.5 1330.2,1107.2 C1331.9,1108.9 1333.6,1111.3 1335.3,1111.3 C1337.0,1111.3 1338.9,1109.2 1340.4,1107.2 C1342.0,1105.1 1343.2,1102.0 1344.6,1098.9 C1345.9,1095.9 1347.3,1092.1 1348.7,1088.7 C1350.0,1085.2 1351.4,1082.2 1352.8,1078.4 C1354.2,1074.6 1355.5,1070.2 1356.9,1066.0 C1358.3,1061.9 1359.3,1058.2 1361.0,1053.7 C1362.7,1049.3 1365.5,1043.8 1367.2,1039.3 C1368.9,1034.9 1369.9,1030.8 1371.3,1027.0 C1372.7,1023.2 1373.7,1020.1 1375.4,1016.7 C1377.1,1013.3 1379.5,1009.5 1381.6,1006.4 C1383.6,1003.3 1385.3,1000.9 1387.7,998.2 C1390.1,995.5 1393.6,990.3 1396.0,990.0 C1398.4,989.6 1400.4,992.7 1402.1,996.1 C1403.8,999.6 1404.9,1005.7 1406.2,1010.5 C1407.6,1015.3 1409.0,1019.8 1410.3,1024.9 C1411.7,1030.1 1413.1,1036.2 1414.5,1041.4 C1415.8,1046.5 1417.2,1051.0 1418.6,1055.8 C1419.9,1060.6 1421.3,1065.7 1422.7,1070.2 C1424.1,1074.6 1425.4,1078.0 1426.8,1082.5 C1428.2,1086.9 1429.5,1092.1 1430.9,1096.9 C1432.3,1101.7 1433.6,1107.2 1435.0,1111.3 C1436.4,1115.4 1437.8,1118.1 1439.1,1121.6 C1440.5,1125.0 1441.9,1129.1 1443.2,1131.8 C1444.6,1134.6 1446.0,1135.9 1447.4,1138.0 C1448.7,1140.1 1449.9,1142.3 1451.5,1144.2 C1453.0,1146.1 1454.9,1148.3 1456.6,1149.3 C1458.3,1150.3 1458.8,1150.5 1461.7,1150.3 C1464.7,1150.2 1471.0,1148.1 1474.1,1148.3 C1477.2,1148.5 1478.6,1149.8 1480.3,1151.4 C1482.0,1152.9 1483.0,1154.8 1484.4,1157.6 C1485.8,1160.3 1487.1,1163.4 1488.5,1167.8 C1489.9,1172.3 1491.2,1178.8 1492.6,1184.3 C1494.0,1189.8 1495.4,1195.6 1496.7,1200.7 C1498.1,1205.9 1499.5,1210.7 1500.8,1215.1 C1502.2,1219.6 1503.6,1223.3 1505.0,1227.5 C1506.3,1231.6 1507.7,1235.7 1509.1,1239.8 C1510.4,1243.9 1511.8,1248.0 1513.2,1252.1 C1514.5,1256.2 1515.9,1260.7 1517.3,1264.5 C1518.7,1268.2 1520.0,1271.7 1521.4,1274.7 C1522.8,1277.8 1523.8,1280.6 1525.5,1283.0 C1527.2,1285.4 1529.6,1287.8 1531.7,1289.1 C1533.7,1290.5 1535.4,1291.2 1537.8,1291.2 C1540.2,1291.2 1543.3,1289.8 1546.1,1289.1 C1548.8,1288.5 1551.6,1287.1 1554.3,1287.1 C1557.0,1287.1 1560.1,1287.8 1562.5,1289.1 C1564.9,1290.5 1566.6,1292.9 1568.7,1295.3 C1570.7,1297.7 1572.8,1300.4 1574.9,1303.5 C1576.9,1306.6 1579.0,1310.7 1581.0,1313.8 C1583.1,1316.9 1585.1,1319.3 1587.2,1322.0 C1589.2,1324.8 1591.3,1327.9 1593.4,1330.3 C1595.4,1332.7 1597.5,1334.7 1599.5,1336.4 C1601.6,1338.1 1603.6,1339.5 1605.7,1340.5 C1607.7,1341.6 1609.8,1343.3 1611.9,1342.6 C1613.9,1341.9 1616.0,1338.8 1618.0,1336.4 C1620.1,1334.0 1622.1,1331.3 1624.2,1328.2 C1626.2,1325.1 1628.3,1321.0 1630.4,1317.9 C1632.4,1314.8 1634.5,1312.1 1636.5,1309.7 C1638.6,1307.3 1640.6,1304.9 1642.7,1303.5 C1644.8,1302.2 1646.8,1301.5 1648.9,1301.5 C1650.9,1301.5 1653.0,1302.2 1655.0,1303.5 C1657.1,1304.9 1659.1,1307.3 1661.2,1309.7 C1663.3,1312.1 1665.3,1315.2 1667.4,1317.9 C1669.4,1320.7 1671.5,1323.4 1673.5,1326.1 C1675.6,1328.9 1677.3,1331.3 1679.7,1334.4 C1682.1,1337.5 1685.5,1341.2 1687.9,1344.6 C1690.3,1348.1 1692.0,1351.2 1694.1,1354.9 C1696.2,1358.7 1698.2,1363.2 1700.3,1367.3 C1702.3,1371.4 1704.4,1375.8 1706.4,1379.6 C1708.5,1383.4 1710.5,1386.8 1712.6,1389.9 C1714.7,1393.0 1716.7,1395.7 1718.8,1398.1 C1720.8,1400.5 1722.5,1402.6 1724.9,1404.3 C1727.3,1406.0 1730.4,1407.2 1733.2,1408.4 C1735.9,1409.6 1738.6,1410.6 1741.4,1411.5 C1744.1,1412.3 1746.9,1413.2 1749.6,1413.5 C1752.3,1413.9 1755.1,1413.5 1757.8,1413.5 C1760.6,1413.5 1763.3,1413.5 1766.1,1413.5 C1768.8,1413.5 1771.5,1413.4 1774.3,1413.5 C1777.0,1413.7 1779.8,1414.2 1782.5,1414.5 C1785.2,1414.9 1788.0,1414.9 1790.7,1415.6 C1793.5,1416.3 1796.2,1417.6 1798.9,1418.7 C1801.7,1419.7 1804.4,1421.1 1807.2,1421.7 C1809.9,1422.4 1812.7,1422.1 1815.4,1422.8 C1818.1,1423.5 1820.9,1424.8 1823.6,1425.9 C1826.4,1426.9 1829.1,1428.3 1831.8,1428.9 C1834.6,1429.6 1837.7,1430.3 1840.1,1430.0 C1842.5,1429.6 1844.2,1428.3 1846.2,1426.9 C1848.3,1425.5 1850.3,1423.6 1852.4,1421.7 C1854.5,1419.9 1856.5,1417.8 1858.6,1415.6 C1860.6,1413.4 1862.7,1411.3 1864.7,1408.4 C1866.8,1405.5 1869.2,1401.9 1870.9,1398.1 C1872.6,1394.3 1873.6,1389.9 1875.0,1385.8 C1876.4,1381.7 1877.8,1377.9 1879.1,1373.4 C1880.5,1369.0 1881.9,1364.2 1883.2,1359.0 C1884.6,1353.9 1886.0,1347.7 1887.4,1342.6 C1888.7,1337.5 1890.1,1333.3 1891.5,1328.2 C1892.8,1323.1 1893.6,1318.9 1895.6,1311.8 C1897.5,1304.6 1901.3,1292.9 1903.1,1285.1 C1904.9,1277.2 1905.1,1271.0 1906.2,1264.5 C1907.2,1258.0 1908.2,1251.5 1909.3,1246.0 C1910.3,1240.5 1911.3,1234.7 1912.3,1231.6 C1913.4,1228.5 1914.2,1228.0 1915.4,1227.5 C1916.6,1227.0 1918.2,1227.8 1919.5,1228.5 C1920.9,1229.2 1922.3,1231.6 1923.7,1231.6 C1925.0,1231.6 1926.4,1230.6 1927.8,1228.5 C1929.1,1226.5 1930.5,1223.2 1931.9,1219.3 C1933.2,1215.3 1934.6,1209.7 1936.0,1204.9 C1937.4,1200.1 1938.7,1195.6 1940.1,1190.5 C1941.5,1185.3 1942.8,1179.5 1944.2,1174.0 C1945.6,1168.5 1947.0,1162.0 1948.3,1157.6 C1949.7,1153.1 1950.9,1149.9 1952.4,1147.3 C1954.0,1144.7 1955.9,1142.7 1957.6,1142.1 C1959.3,1141.6 1961.2,1142.7 1962.7,1144.2 C1964.3,1145.7 1965.5,1148.1 1966.8,1151.4 C1968.2,1154.7 1969.8,1159.6 1971.0,1163.7 C1972.2,1167.8 1972.8,1172.0 1974.0,1176.1 C1975.2,1180.2 1976.8,1183.3 1978.1,1188.4 C1979.5,1193.6 1980.9,1200.8 1982.3,1206.9 C1983.6,1213.1 1985.0,1218.9 1986.4,1225.4 C1987.7,1231.9 1989.1,1239.1 1990.5,1246.0 C1991.9,1252.9 1993.2,1260.1 1994.6,1266.6 C1996.0,1273.1 1997.3,1279.9 1998.7,1285.1 C2000.1,1290.2 2001.5,1294.0 2002.8,1297.4 C2004.2,1300.8 2005.6,1303.4 2006.9,1305.6 C2008.3,1307.9 2009.5,1309.6 2011.1,1310.8 C2012.6,1312.0 2014.5,1311.6 2016.2,1312.8 C2017.9,1314.0 2019.5,1316.1 2021.3,1318.0 C2023.2,1319.9 2025.4,1322.1 2027.5,1324.1 C2029.6,1326.2 2031.8,1328.3 2033.7,1330.3 C2035.6,1332.4 2037.3,1333.7 2038.8,1336.5 C2040.4,1339.2 2041.7,1343.0 2042.9,1346.8 C2044.1,1350.5 2045.0,1355.0 2046.0,1359.1 C2047.0,1363.2 2047.9,1367.3 2049.1,1371.4 C2050.3,1375.6 2051.7,1380.4 2053.2,1383.8 C2054.8,1387.2 2056.5,1390.0 2058.4,1392.0 C2060.2,1394.1 2062.5,1394.9 2064.5,1396.1 C2066.6,1397.3 2068.6,1398.0 2070.7,1399.2 C2072.8,1400.4 2074.8,1402.8 2076.9,1403.3 C2078.9,1403.8 2081.1,1403.2 2083.0,1402.3 C2084.9,1401.4 2086.5,1399.6 2088.2,1398.2 C2089.9,1396.8 2091.8,1393.7 2093.3,1394.1 C2094.9,1394.4 2096.1,1397.8 2097.4,1400.2 C2098.8,1402.6 2100.2,1405.7 2101.5,1408.5 C2102.9,1411.2 2103.9,1415.7 2105.7,1416.7 C2107.4,1417.7 2109.8,1415.1 2111.8,1414.6 C2113.9,1414.1 2115.9,1413.3 2118.0,1413.6 C2120.1,1413.9 2122.1,1416.5 2124.2,1416.7 C2126.2,1416.9 2128.3,1413.9 2130.3,1414.6 C2132.4,1415.3 2134.4,1418.4 2136.5,1420.8 C2138.6,1423.2 2140.6,1427.3 2142.7,1429.0 C2144.7,1430.7 2146.4,1430.4 2148.8,1431.1 C2151.2,1431.8 2154.3,1432.3 2157.1,1433.1 C2159.8,1434.0 2162.6,1435.5 2165.3,1436.2 C2168.0,1436.9 2170.8,1436.4 2173.5,1437.3 C2176.3,1438.1 2179.3,1441.0 2181.7,1441.4 C2184.1,1441.7 2185.5,1440.0 2187.9,1439.3 C2190.3,1438.6 2193.7,1437.3 2196.1,1437.3 C2198.5,1437.3 2199.6,1439.3 2202.3,1439.3 C2205.1,1439.3 2210.6,1437.6 2212.6,1437.3 C2214.5,1436.9 2213.8,1437.0 2214.0,1437.0" stroke="#EE4040"/>
<path d="M184.0,1348.1 C184.5,1348.4 185.8,1349.1 187.2,1350.0 C188.6,1350.8 190.5,1353.2 192.3,1353.1 C194.2,1352.9 196.8,1349.5 198.5,1348.9 C200.2,1348.4 200.9,1349.1 202.6,1350.0 C204.3,1350.8 206.7,1353.2 208.8,1354.1 C210.8,1354.9 212.9,1354.6 215.0,1355.1 C217.0,1355.6 218.7,1356.1 221.1,1357.2 C223.5,1358.2 226.6,1360.1 229.3,1361.3 C232.1,1362.5 234.8,1363.0 237.6,1364.4 C240.3,1365.7 243.0,1369.2 245.8,1369.5 C248.5,1369.8 251.3,1366.6 254.0,1366.4 C256.8,1366.2 259.5,1367.4 262.2,1368.5 C265.0,1369.5 267.7,1371.7 270.5,1372.6 C273.2,1373.4 275.9,1373.8 278.7,1373.6 C281.4,1373.4 284.2,1372.1 286.9,1371.6 C289.6,1371.0 292.4,1370.0 295.1,1370.5 C297.9,1371.0 301.0,1375.2 303.4,1374.6 C305.8,1374.1 307.5,1368.5 309.5,1367.4 C311.6,1366.4 313.6,1367.8 315.7,1368.5 C317.7,1369.2 319.8,1372.4 321.9,1371.6 C323.9,1370.7 326.0,1366.4 328.0,1363.3 C330.1,1360.2 332.5,1356.8 334.2,1353.1 C335.9,1349.3 336.9,1346.5 338.3,1340.7 C339.7,1334.9 341.4,1324.6 342.4,1318.1 C343.4,1311.6 343.6,1304.4 344.5,1301.7 C345.3,1298.9 346.5,1298.9 347.6,1301.7 C348.6,1304.4 349.6,1311.9 350.6,1318.1 C351.7,1324.3 352.7,1331.8 353.7,1338.7 C354.8,1345.5 355.6,1353.1 356.8,1359.2 C358.0,1365.4 359.2,1371.2 360.9,1375.7 C362.6,1380.1 364.7,1383.2 367.1,1385.9 C369.5,1388.7 372.6,1390.6 375.3,1392.1 C378.1,1393.7 381.1,1394.9 383.5,1395.2 C385.9,1395.5 387.3,1395.2 389.7,1394.2 C392.1,1393.1 395.2,1390.4 397.9,1389.0 C400.7,1387.7 403.8,1387.0 406.2,1385.9 C408.5,1384.9 410.3,1384.4 412.3,1382.9 C414.4,1381.3 416.9,1379.6 418.5,1376.7 C420.0,1373.8 420.5,1369.0 421.6,1365.4 C422.6,1361.8 423.5,1357.8 424.7,1355.1 C425.9,1352.4 427.1,1347.9 428.8,1348.9 C430.5,1350.0 432.9,1358.2 434.9,1361.3 C437.0,1364.4 439.0,1365.0 441.1,1367.4 C443.2,1369.8 444.9,1373.3 447.3,1375.7 C449.7,1378.1 453.1,1381.8 455.5,1381.8 C457.9,1381.8 459.6,1377.7 461.7,1375.7 C463.7,1373.6 466.1,1370.2 467.8,1369.5 C469.5,1368.8 470.2,1370.2 471.9,1371.6 C473.7,1372.9 476.1,1377.2 478.1,1377.7 C480.2,1378.2 482.2,1375.3 484.3,1374.6 C486.3,1374.0 488.0,1373.6 490.4,1373.6 C492.8,1373.6 495.6,1375.0 498.7,1374.6 C501.8,1374.3 505.9,1372.9 508.9,1371.6 C512.0,1370.2 514.8,1368.1 517.2,1366.4 C519.6,1364.7 521.3,1362.8 523.3,1361.3 C525.4,1359.7 527.5,1359.6 529.5,1357.2 C531.6,1354.8 533.6,1349.6 535.7,1346.9 C537.7,1344.1 539.8,1341.4 541.8,1340.7 C543.9,1340.0 546.0,1341.4 548.0,1342.8 C550.1,1344.1 552.1,1346.9 554.2,1348.9 C556.2,1351.0 558.6,1353.1 560.3,1355.1 C562.1,1357.2 562.7,1360.8 564.5,1361.3 C566.2,1361.8 568.9,1359.4 570.6,1358.2 C572.3,1357.0 573.0,1353.9 574.7,1354.1 C576.5,1354.3 578.8,1357.0 580.9,1359.2 C583.0,1361.4 583.8,1367.7 587.1,1367.4 C590.3,1367.2 597.0,1361.2 600.3,1357.5 C603.5,1353.8 604.7,1351.4 606.4,1345.2 C608.1,1339.0 609.3,1329.6 610.5,1320.5 C611.7,1311.5 612.6,1300.8 613.6,1290.7 C614.7,1280.6 615.5,1267.4 616.7,1259.9 C617.9,1252.3 619.6,1245.8 620.8,1245.5 C622.0,1245.1 622.9,1253.7 623.9,1257.8 C625.0,1261.9 625.8,1265.4 627.0,1270.2 C628.2,1274.9 628.0,1278.2 631.1,1286.6 C634.2,1295.0 642.0,1312.5 645.5,1320.5 C648.9,1328.6 649.6,1330.1 651.6,1334.9 C653.7,1339.7 655.7,1344.2 657.8,1349.3 C659.8,1354.4 661.9,1360.6 664.0,1365.7 C666.0,1370.9 668.1,1375.3 670.1,1380.1 C672.2,1384.9 674.2,1390.4 676.3,1394.5 C678.3,1398.6 680.4,1402.4 682.4,1404.8 C684.5,1407.2 686.5,1408.0 688.6,1408.9 C690.7,1409.7 692.4,1409.9 694.8,1409.9 C697.2,1409.9 700.6,1408.4 703.0,1408.9 C705.4,1409.4 707.1,1411.3 709.1,1413.0 C711.2,1414.7 713.3,1418.3 715.3,1419.1 C717.4,1420.0 719.4,1418.6 721.5,1418.1 C723.5,1417.6 725.6,1416.1 727.6,1416.1 C729.7,1416.1 731.4,1417.6 733.8,1418.1 C736.2,1418.6 739.3,1419.0 742.0,1419.1 C744.8,1419.3 747.8,1418.8 750.2,1419.1 C752.6,1419.5 754.3,1420.5 756.4,1421.2 C758.4,1421.9 760.5,1423.6 762.6,1423.3 C764.6,1422.9 766.7,1419.5 768.7,1419.1 C770.8,1418.8 772.5,1420.5 774.9,1421.2 C777.3,1421.9 780.7,1423.4 783.1,1423.3 C785.5,1423.1 786.9,1421.4 789.3,1420.2 C791.7,1419.0 794.7,1416.9 797.5,1416.1 C800.2,1415.2 803.0,1415.4 805.7,1415.0 C808.4,1414.7 811.2,1414.4 813.9,1414.0 C816.7,1413.7 819.7,1412.8 822.1,1413.0 C824.5,1413.2 826.2,1414.2 828.3,1415.0 C830.3,1415.9 832.4,1417.9 834.5,1418.1 C836.5,1418.3 838.2,1417.1 840.6,1416.1 C843.0,1415.0 846.1,1413.0 848.8,1412.0 C851.6,1410.9 854.7,1410.8 857.1,1409.9 C859.4,1409.0 861.2,1408.4 863.2,1406.8 C865.3,1405.3 867.5,1403.7 869.4,1400.7 C871.3,1397.6 873.1,1391.4 874.5,1388.3 C875.9,1385.3 876.4,1383.5 877.6,1382.2 C878.8,1380.8 880.3,1379.8 881.7,1380.1 C883.1,1380.5 884.4,1381.8 885.8,1384.2 C887.2,1386.6 888.5,1391.8 889.9,1394.5 C891.3,1397.2 892.3,1398.9 894.0,1400.7 C895.7,1402.4 897.8,1403.7 900.2,1404.8 C902.6,1405.8 905.7,1406.6 908.4,1406.8 C911.1,1407.0 913.9,1405.8 916.6,1405.8 C919.4,1405.8 922.1,1406.6 924.8,1406.8 C927.6,1407.0 930.3,1407.2 933.1,1406.8 C935.8,1406.5 938.5,1405.6 941.3,1404.8 C944.0,1403.9 946.8,1402.0 949.5,1401.7 C952.2,1401.3 955.3,1402.2 957.7,1402.7 C960.1,1403.2 961.8,1405.5 963.9,1404.8 C965.9,1404.1 968.0,1401.0 970.0,1398.6 C972.1,1396.2 974.1,1392.8 976.2,1390.4 C978.2,1388.0 980.0,1385.9 982.4,1384.2 C984.8,1382.5 987.8,1380.1 990.6,1380.1 C993.3,1380.1 996.1,1382.5 998.8,1384.2 C1001.5,1385.9 1004.6,1388.0 1007.0,1390.4 C1009.4,1392.8 1011.1,1396.9 1013.2,1398.6 C1015.2,1400.3 1017.3,1400.7 1019.3,1400.7 C1021.4,1400.7 1022.7,1396.9 1025.5,1398.6 C1028.3,1400.3 1033.4,1408.5 1036.2,1410.7 C1039.0,1412.9 1040.3,1411.4 1042.3,1411.7 C1044.4,1412.1 1046.4,1413.1 1048.5,1412.8 C1050.6,1412.4 1052.6,1409.9 1054.7,1409.7 C1056.7,1409.5 1059.0,1411.1 1060.8,1411.7 C1062.7,1412.4 1064.3,1413.8 1066.0,1413.8 C1067.7,1413.8 1069.2,1412.3 1071.1,1411.7 C1073.0,1411.2 1075.2,1411.7 1077.3,1410.7 C1079.3,1409.7 1081.4,1405.7 1083.5,1405.6 C1085.5,1405.4 1087.9,1409.5 1089.6,1409.7 C1091.3,1409.9 1092.2,1408.5 1093.7,1406.6 C1095.3,1404.7 1097.2,1400.3 1098.9,1398.4 C1100.6,1396.5 1102.3,1394.8 1104.0,1395.3 C1105.7,1395.8 1107.4,1399.7 1109.2,1401.5 C1110.9,1403.2 1112.4,1405.6 1114.3,1405.6 C1116.2,1405.6 1118.4,1402.8 1120.5,1401.5 C1122.5,1400.1 1125.1,1397.9 1126.6,1397.3 C1128.2,1396.8 1128.7,1397.2 1129.7,1398.4 C1130.7,1399.6 1131.6,1402.0 1132.8,1404.5 C1134.0,1407.1 1135.2,1411.4 1136.9,1413.8 C1138.6,1416.2 1141.0,1418.1 1143.1,1418.9 C1145.1,1419.8 1147.2,1419.4 1149.2,1418.9 C1151.3,1418.4 1153.4,1416.7 1155.4,1415.9 C1157.5,1415.0 1159.5,1414.7 1161.6,1413.8 C1163.6,1412.9 1165.7,1412.1 1167.7,1410.7 C1169.8,1409.3 1171.9,1407.3 1173.9,1405.6 C1176.0,1403.9 1177.9,1402.3 1180.1,1400.4 C1182.3,1398.5 1184.9,1394.9 1187.3,1394.3 C1189.7,1393.6 1192.2,1395.6 1194.5,1396.3 C1196.7,1397.0 1198.6,1398.5 1200.6,1398.4 C1202.7,1398.2 1204.8,1396.1 1206.8,1395.3 C1208.9,1394.4 1210.9,1394.3 1213.0,1393.2 C1215.0,1392.2 1217.1,1390.3 1219.1,1389.1 C1221.2,1387.9 1223.3,1386.7 1225.3,1386.0 C1227.4,1385.4 1229.1,1385.4 1231.5,1385.0 C1233.9,1384.7 1237.3,1384.5 1239.7,1384.0 C1242.1,1383.5 1243.8,1382.4 1245.9,1381.9 C1247.9,1381.4 1250.0,1381.9 1252.0,1380.9 C1254.1,1379.9 1255.8,1376.6 1258.2,1375.8 C1260.6,1374.9 1264.0,1376.3 1266.4,1375.8 C1268.8,1375.2 1270.5,1373.7 1272.6,1372.7 C1274.7,1371.6 1276.7,1370.8 1278.8,1369.6 C1280.8,1368.4 1282.9,1366.7 1284.9,1365.5 C1287.0,1364.3 1289.0,1363.6 1291.1,1362.4 C1293.2,1361.2 1295.2,1359.7 1297.3,1358.3 C1299.3,1356.9 1301.4,1355.5 1303.4,1354.2 C1305.5,1352.8 1307.5,1351.6 1309.6,1350.1 C1311.7,1348.5 1313.7,1345.9 1315.8,1344.9 C1317.8,1343.9 1319.7,1344.2 1321.9,1343.9 C1324.2,1343.6 1327.1,1342.5 1329.1,1342.9 C1331.2,1343.2 1332.6,1344.9 1334.3,1345.9 C1336.0,1347.0 1337.7,1349.2 1339.4,1349.0 C1341.1,1348.9 1342.8,1346.1 1344.6,1344.9 C1346.3,1343.7 1348.0,1342.9 1349.7,1341.8 C1351.4,1340.8 1353.3,1340.1 1354.8,1338.8 C1356.4,1337.4 1357.6,1335.0 1358.9,1333.6 C1360.3,1332.2 1361.3,1331.4 1363.1,1330.5 C1364.8,1329.7 1367.2,1329.8 1369.2,1328.5 C1371.3,1327.1 1373.3,1324.5 1375.4,1322.3 C1377.5,1320.1 1379.5,1317.0 1381.6,1315.1 C1383.6,1313.2 1385.3,1312.5 1387.7,1311.0 C1390.1,1309.5 1393.9,1306.9 1396.0,1305.9 C1398.0,1304.8 1398.4,1304.3 1400.1,1304.8 C1401.8,1305.3 1404.3,1306.7 1406.2,1308.9 C1408.1,1311.2 1409.7,1314.9 1411.4,1318.2 C1413.1,1321.4 1414.8,1325.7 1416.5,1328.5 C1418.2,1331.2 1419.8,1332.9 1421.7,1334.6 C1423.5,1336.4 1425.9,1337.0 1427.8,1338.8 C1429.7,1340.5 1431.1,1342.5 1433.0,1344.9 C1434.8,1347.3 1437.1,1350.7 1439.1,1353.1 C1441.2,1355.5 1443.2,1357.9 1445.3,1359.3 C1447.4,1360.7 1449.4,1360.3 1451.5,1361.4 C1453.5,1362.4 1455.6,1364.6 1457.6,1365.5 C1459.7,1366.3 1461.1,1367.1 1463.8,1366.5 C1466.5,1365.9 1471.2,1363.2 1474.1,1362.1 C1477.0,1361.0 1479.4,1359.7 1481.3,1360.1 C1483.2,1360.4 1483.9,1362.0 1485.4,1364.2 C1487.0,1366.4 1488.7,1370.5 1490.6,1373.4 C1492.4,1376.3 1494.7,1379.4 1496.7,1381.7 C1498.8,1383.9 1501.0,1385.1 1502.9,1386.8 C1504.8,1388.5 1506.3,1389.7 1508.0,1391.9 C1509.7,1394.2 1511.3,1397.4 1513.2,1400.2 C1515.1,1402.9 1517.3,1406.2 1519.3,1408.4 C1521.4,1410.6 1523.5,1412.5 1525.5,1413.5 C1527.6,1414.5 1529.6,1414.9 1531.7,1414.5 C1533.7,1414.2 1535.8,1412.7 1537.8,1411.5 C1539.9,1410.3 1542.0,1408.6 1544.0,1407.4 C1546.1,1406.2 1548.1,1405.0 1550.2,1404.3 C1552.2,1403.6 1554.3,1403.8 1556.3,1403.2 C1558.4,1402.7 1560.5,1401.4 1562.5,1401.2 C1564.6,1401.0 1566.6,1401.7 1568.7,1402.2 C1570.7,1402.7 1572.8,1403.4 1574.9,1404.3 C1576.9,1405.1 1579.0,1406.3 1581.0,1407.4 C1583.1,1408.4 1585.1,1409.9 1587.2,1410.4 C1589.2,1411.0 1591.3,1410.3 1593.4,1410.4 C1595.4,1410.6 1597.3,1411.0 1599.5,1411.5 C1601.8,1412.0 1604.3,1413.7 1606.7,1413.5 C1609.1,1413.4 1611.7,1411.3 1613.9,1410.4 C1616.1,1409.6 1618.0,1408.9 1620.1,1408.4 C1622.1,1407.9 1623.9,1407.7 1626.2,1407.4 C1628.6,1407.0 1631.7,1406.7 1634.5,1406.3 C1637.2,1406.0 1640.3,1405.5 1642.7,1405.3 C1645.1,1405.1 1646.8,1405.6 1648.9,1405.3 C1650.9,1405.0 1653.0,1403.6 1655.0,1403.2 C1657.1,1402.9 1659.1,1403.1 1661.2,1403.2 C1663.3,1403.4 1665.0,1403.9 1667.4,1404.3 C1669.8,1404.6 1672.9,1404.8 1675.6,1405.3 C1678.3,1405.8 1681.1,1406.7 1683.8,1407.4 C1686.6,1408.0 1689.6,1408.7 1692.0,1409.4 C1694.4,1410.1 1696.2,1410.6 1698.2,1411.5 C1700.3,1412.3 1702.3,1413.5 1704.4,1414.5 C1706.4,1415.6 1708.1,1416.9 1710.5,1417.6 C1712.9,1418.3 1716.0,1418.3 1718.8,1418.7 C1721.5,1419.0 1724.2,1419.0 1727.0,1419.7 C1729.7,1420.4 1732.8,1422.1 1735.2,1422.8 C1737.6,1423.5 1739.0,1423.8 1741.4,1423.8 C1743.8,1423.8 1746.9,1422.9 1749.6,1422.8 C1752.3,1422.6 1755.1,1423.3 1757.8,1422.8 C1760.6,1422.3 1763.7,1420.4 1766.1,1419.7 C1768.5,1419.0 1770.2,1418.7 1772.2,1418.7 C1774.3,1418.7 1776.0,1419.2 1778.4,1419.7 C1780.8,1420.2 1783.9,1421.2 1786.6,1421.7 C1789.4,1422.3 1792.1,1422.3 1794.8,1422.8 C1797.6,1423.3 1800.3,1424.5 1803.1,1424.8 C1805.8,1425.2 1808.5,1424.5 1811.3,1424.8 C1814.0,1425.2 1816.8,1426.2 1819.5,1426.9 C1822.2,1427.6 1825.0,1428.6 1827.7,1428.9 C1830.5,1429.3 1833.2,1429.1 1836.0,1428.9 C1838.7,1428.8 1841.4,1428.3 1844.2,1427.9 C1846.9,1427.6 1849.7,1426.7 1852.4,1426.9 C1855.1,1427.1 1858.1,1428.3 1860.6,1428.9 C1863.2,1429.6 1865.8,1431.2 1867.8,1431.0 C1869.9,1430.8 1871.1,1429.1 1873.0,1427.9 C1874.8,1426.7 1877.1,1424.8 1879.1,1423.8 C1881.2,1422.8 1883.2,1422.6 1885.3,1421.7 C1887.4,1420.9 1889.6,1420.2 1891.5,1418.7 C1893.3,1417.1 1894.7,1415.2 1896.6,1412.5 C1898.5,1409.8 1901.3,1405.7 1903.1,1402.3 C1904.9,1398.9 1905.7,1394.8 1907.2,1392.0 C1908.7,1389.3 1910.5,1387.2 1912.3,1385.8 C1914.2,1384.5 1916.5,1384.5 1918.5,1383.8 C1920.6,1383.1 1922.6,1382.8 1924.7,1381.7 C1926.7,1380.7 1929.0,1378.5 1930.8,1377.6 C1932.7,1376.8 1934.3,1377.3 1936.0,1376.6 C1937.7,1375.9 1939.6,1375.4 1941.1,1373.5 C1942.7,1371.6 1943.7,1367.8 1945.2,1365.3 C1946.8,1362.7 1948.7,1360.0 1950.4,1358.1 C1952.1,1356.2 1953.8,1354.8 1955.5,1354.0 C1957.2,1353.1 1959.0,1352.8 1960.7,1352.9 C1962.4,1353.1 1964.1,1354.0 1965.8,1355.0 C1967.5,1356.0 1969.2,1357.9 1971.0,1359.1 C1972.7,1360.3 1974.4,1361.2 1976.1,1362.2 C1977.8,1363.2 1979.5,1364.1 1981.2,1365.3 C1982.9,1366.5 1984.5,1368.2 1986.4,1369.4 C1988.3,1370.6 1990.7,1372.5 1992.5,1372.5 C1994.4,1372.5 1996.0,1370.4 1997.7,1369.4 C1999.4,1368.4 2000.9,1366.6 2002.8,1366.3 C2004.7,1366.0 2006.9,1366.5 2009.0,1367.3 C2011.1,1368.2 2013.1,1370.1 2015.2,1371.4 C2017.2,1372.8 2019.3,1374.4 2021.3,1375.6 C2023.4,1376.8 2025.4,1377.8 2027.5,1378.6 C2029.6,1379.5 2031.3,1380.4 2033.7,1380.7 C2036.1,1381.0 2039.2,1380.4 2041.9,1380.7 C2044.6,1381.0 2047.7,1381.9 2050.1,1382.8 C2052.5,1383.6 2054.2,1384.8 2056.3,1385.8 C2058.4,1386.9 2060.4,1387.9 2062.5,1388.9 C2064.5,1390.0 2066.6,1391.2 2068.6,1392.0 C2070.7,1392.9 2072.8,1393.7 2074.8,1394.1 C2076.9,1394.4 2078.9,1394.6 2081.0,1394.1 C2083.0,1393.6 2085.3,1391.8 2087.1,1391.0 C2089.0,1390.1 2090.7,1388.8 2092.3,1388.9 C2093.8,1389.1 2094.9,1390.6 2096.4,1392.0 C2097.9,1393.4 2099.7,1396.1 2101.5,1397.2 C2103.4,1398.2 2105.7,1398.4 2107.7,1398.2 C2109.8,1398.0 2111.8,1396.1 2113.9,1396.1 C2115.9,1396.1 2118.2,1398.4 2120.1,1398.2 C2121.9,1398.0 2123.5,1396.0 2125.2,1395.1 C2126.9,1394.2 2128.6,1393.0 2130.3,1393.0 C2132.0,1393.0 2133.8,1393.9 2135.5,1395.1 C2137.2,1396.3 2138.7,1399.0 2140.6,1400.2 C2142.5,1401.4 2144.7,1401.6 2146.8,1402.3 C2148.8,1403.0 2150.9,1403.3 2153.0,1404.4 C2155.0,1405.4 2157.1,1407.4 2159.1,1408.5 C2161.2,1409.5 2162.9,1410.0 2165.3,1410.5 C2167.7,1411.0 2170.8,1411.4 2173.5,1411.6 C2176.3,1411.7 2179.3,1411.9 2181.7,1411.6 C2184.1,1411.2 2185.9,1410.2 2187.9,1409.5 C2190.0,1408.8 2192.0,1407.3 2194.1,1407.4 C2196.1,1407.6 2198.5,1409.8 2200.3,1410.5 C2202.0,1411.2 2202.3,1411.9 2204.4,1411.6 C2206.4,1411.2 2211.0,1409.1 2212.6,1408.5 C2214.2,1407.9 2213.8,1408.0 2214.0,1407.9" stroke="#186CDC"/>
<path d="M184.0,1266.1 C184.5,1267.1 185.8,1269.3 187.2,1271.8 C188.6,1274.3 190.1,1278.9 192.3,1281.1 C194.6,1283.3 198.2,1283.5 200.6,1285.2 C203.0,1286.9 204.7,1289.0 206.7,1291.4 C208.8,1293.8 210.5,1296.9 212.9,1299.6 C215.3,1302.3 218.4,1304.4 221.1,1307.8 C223.9,1311.2 226.6,1317.1 229.3,1320.2 C232.1,1323.2 234.8,1324.6 237.6,1326.3 C240.3,1328.0 243.0,1328.7 245.8,1330.4 C248.5,1332.2 251.3,1334.9 254.0,1336.6 C256.8,1338.3 259.5,1339.2 262.2,1340.7 C265.0,1342.3 268.1,1344.8 270.5,1345.9 C272.9,1346.9 274.2,1346.7 276.6,1346.9 C279.0,1347.1 282.5,1346.5 284.9,1346.9 C287.3,1347.2 289.0,1348.8 291.0,1348.9 C293.1,1349.1 295.1,1346.9 297.2,1347.9 C299.2,1348.9 301.3,1354.3 303.4,1355.1 C305.4,1356.0 307.5,1353.4 309.5,1353.1 C311.6,1352.7 313.6,1352.7 315.7,1353.1 C317.7,1353.4 320.1,1355.8 321.9,1355.1 C323.6,1354.4 324.6,1352.0 326.0,1348.9 C327.3,1345.9 328.7,1340.4 330.1,1336.6 C331.5,1332.8 332.8,1331.8 334.2,1326.3 C335.6,1320.8 336.9,1314.3 338.3,1303.7 C339.7,1293.1 341.2,1272.9 342.4,1262.6 C343.6,1252.3 344.5,1245.8 345.5,1242.0 C346.5,1238.3 347.6,1238.3 348.6,1240.0 C349.6,1241.7 350.6,1243.4 351.7,1252.3 C352.7,1261.2 353.6,1279.7 354.8,1293.4 C356.0,1307.1 357.5,1323.2 358.9,1334.5 C360.2,1345.9 361.3,1353.7 363.0,1361.3 C364.7,1368.8 366.7,1375.7 369.1,1379.8 C371.5,1383.9 374.6,1384.4 377.4,1385.9 C380.1,1387.5 382.9,1389.0 385.6,1389.0 C388.3,1389.0 391.8,1386.8 393.8,1385.9 C395.9,1385.1 396.2,1384.2 397.9,1383.9 C399.6,1383.5 402.0,1384.6 404.1,1383.9 C406.2,1383.2 408.2,1381.2 410.3,1379.8 C412.3,1378.4 414.7,1378.4 416.4,1375.7 C418.1,1372.9 419.3,1368.5 420.5,1363.3 C421.7,1358.2 422.6,1353.1 423.6,1344.8 C424.7,1336.6 425.9,1319.5 426.7,1314.0 C427.6,1308.5 427.7,1310.9 428.8,1311.9 C429.8,1313.0 431.5,1316.0 432.9,1320.2 C434.2,1324.3 435.4,1331.5 437.0,1336.6 C438.5,1341.7 440.4,1346.9 442.1,1351.0 C443.8,1355.1 445.0,1358.2 447.3,1361.3 C449.5,1364.4 452.8,1369.5 455.5,1369.5 C458.2,1369.5 461.3,1362.6 463.7,1361.3 C466.1,1359.9 468.2,1359.6 469.9,1361.3 C471.6,1363.0 472.6,1369.3 474.0,1371.6 C475.4,1373.8 476.1,1374.8 478.1,1374.6 C480.2,1374.5 483.6,1371.6 486.3,1370.5 C489.1,1369.5 492.2,1369.3 494.6,1368.5 C497.0,1367.6 498.7,1366.9 500.7,1365.4 C502.8,1363.8 504.8,1361.6 506.9,1359.2 C508.9,1356.8 511.0,1352.7 513.1,1351.0 C515.1,1349.3 516.8,1350.7 519.2,1348.9 C521.6,1347.2 525.1,1344.1 527.5,1340.7 C529.8,1337.3 531.6,1332.2 533.6,1328.4 C535.7,1324.6 537.7,1319.5 539.8,1318.1 C541.8,1316.7 543.9,1319.1 546.0,1320.2 C548.0,1321.2 550.1,1322.6 552.1,1324.3 C554.2,1326.0 556.4,1327.7 558.3,1330.4 C560.2,1333.2 561.7,1340.0 563.4,1340.7 C565.1,1341.4 567.0,1338.7 568.6,1334.5 C570.1,1330.4 571.5,1319.6 572.7,1316.0 C573.9,1312.4 574.4,1311.9 575.8,1313.0 C577.1,1314.0 579.4,1318.3 580.9,1322.2 C582.4,1326.2 583.6,1332.8 585.0,1336.6 C586.4,1340.4 585.4,1355.9 589.1,1344.8 C592.9,1333.8 604.1,1289.5 607.5,1270.2 C610.9,1250.9 608.8,1242.7 609.5,1229.0 C610.2,1215.3 610.9,1201.6 611.6,1187.9 C612.3,1174.2 613.0,1160.5 613.6,1146.8 C614.3,1133.1 614.8,1117.7 615.7,1105.7 C616.6,1093.7 617.6,1081.9 618.8,1074.8 C620.0,1067.8 621.5,1063.5 622.9,1063.5 C624.3,1063.5 625.8,1067.8 627.0,1074.8 C628.2,1081.9 629.1,1095.4 630.1,1105.7 C631.1,1116.0 632.0,1126.2 633.2,1136.5 C634.4,1146.8 635.9,1158.8 637.3,1167.4 C638.7,1175.9 640.0,1179.3 641.4,1187.9 C642.8,1196.5 644.1,1208.5 645.5,1218.8 C646.9,1229.0 648.3,1240.3 649.6,1249.6 C651.0,1258.8 651.9,1263.1 653.7,1274.3 C655.6,1285.4 659.2,1307.0 660.9,1316.4 C662.6,1325.9 662.9,1325.7 664.0,1330.8 C665.0,1335.9 666.0,1342.1 667.0,1347.2 C668.1,1352.4 668.9,1356.8 670.1,1361.6 C671.3,1366.4 672.9,1371.6 674.2,1376.0 C675.6,1380.5 676.6,1383.9 678.3,1388.3 C680.0,1392.8 682.4,1398.3 684.5,1402.7 C686.5,1407.2 688.6,1411.6 690.7,1415.0 C692.7,1418.5 694.4,1421.5 696.8,1423.3 C699.2,1425.0 703.0,1423.9 705.0,1425.3 C707.1,1426.7 707.8,1429.1 709.1,1431.5 C710.5,1433.9 711.5,1437.3 713.3,1439.7 C715.0,1442.1 717.4,1444.1 719.4,1445.9 C721.5,1447.6 723.5,1447.9 725.6,1450.0 C727.6,1452.0 729.7,1455.8 731.7,1458.2 C733.8,1460.6 735.5,1462.6 737.9,1464.3 C740.3,1466.1 743.7,1467.2 746.1,1468.4 C748.5,1469.6 750.4,1470.7 752.3,1471.5 C754.2,1472.4 755.7,1473.8 757.4,1473.6 C759.1,1473.4 760.7,1471.5 762.6,1470.5 C764.4,1469.5 766.7,1467.4 768.7,1467.4 C770.8,1467.4 772.8,1469.8 774.9,1470.5 C776.9,1471.2 779.0,1472.0 781.0,1471.5 C783.1,1471.0 784.8,1468.6 787.2,1467.4 C789.6,1466.2 792.7,1465.5 795.4,1464.3 C798.2,1463.1 801.2,1461.6 803.6,1460.2 C806.0,1458.9 807.7,1457.1 809.8,1456.1 C811.9,1455.1 813.6,1454.8 816.0,1454.1 C818.4,1453.4 821.4,1452.2 824.2,1452.0 C826.9,1451.8 830.0,1452.5 832.4,1453.0 C834.8,1453.6 836.5,1455.3 838.6,1455.1 C840.6,1454.9 842.3,1453.4 844.7,1452.0 C847.1,1450.6 850.5,1448.6 852.9,1446.9 C855.3,1445.2 857.1,1445.0 859.1,1441.7 C861.2,1438.5 863.6,1432.5 865.3,1427.4 C867.0,1422.2 868.0,1416.7 869.4,1410.9 C870.7,1405.1 872.1,1399.3 873.5,1392.4 C874.9,1385.6 876.4,1376.0 877.6,1369.8 C878.8,1363.7 879.6,1357.2 880.7,1355.5 C881.7,1353.8 882.6,1356.8 883.8,1359.6 C885.0,1362.3 886.5,1367.1 887.9,1371.9 C889.2,1376.7 890.6,1382.9 892.0,1388.3 C893.3,1393.8 894.4,1399.6 896.1,1404.8 C897.8,1409.9 900.2,1415.7 902.2,1419.1 C904.3,1422.6 906.4,1424.3 908.4,1425.3 C910.5,1426.3 912.2,1425.1 914.6,1425.3 C917.0,1425.5 920.0,1426.7 922.8,1426.3 C925.5,1426.0 928.3,1424.1 931.0,1423.3 C933.7,1422.4 936.5,1422.1 939.2,1421.2 C942.0,1420.3 945.0,1419.3 947.4,1418.1 C949.8,1416.9 951.5,1415.2 953.6,1414.0 C955.7,1412.8 957.7,1412.5 959.8,1410.9 C961.8,1409.4 963.9,1407.5 965.9,1404.8 C968.0,1402.0 970.0,1397.9 972.1,1394.5 C974.1,1391.1 976.2,1387.6 978.2,1384.2 C980.3,1380.8 982.4,1377.0 984.4,1374.0 C986.5,1370.9 988.2,1366.9 990.6,1365.7 C993.0,1364.5 996.4,1366.4 998.8,1366.8 C1001.2,1367.1 1002.9,1366.6 1005.0,1367.8 C1007.0,1369.0 1009.4,1372.6 1011.1,1374.0 C1012.8,1375.3 1013.5,1376.7 1015.2,1376.0 C1016.9,1375.3 1019.7,1371.2 1021.4,1369.8 C1023.1,1368.5 1023.0,1367.1 1025.5,1367.8 C1028.0,1368.4 1033.4,1373.6 1036.2,1373.7 C1039.0,1373.8 1040.3,1370.3 1042.3,1368.6 C1044.4,1366.9 1046.4,1365.0 1048.5,1363.4 C1050.6,1361.9 1052.6,1360.5 1054.7,1359.3 C1056.7,1358.1 1058.8,1357.9 1060.8,1356.2 C1062.9,1354.5 1065.0,1351.6 1067.0,1349.0 C1069.1,1346.5 1071.1,1343.9 1073.2,1340.8 C1075.2,1337.7 1077.6,1333.4 1079.3,1330.5 C1081.1,1327.6 1081.7,1324.4 1083.5,1323.3 C1085.2,1322.3 1087.9,1325.6 1089.6,1324.4 C1091.3,1323.2 1092.4,1319.2 1093.7,1316.1 C1095.1,1313.1 1096.6,1308.8 1097.8,1305.9 C1099.0,1302.9 1099.6,1300.4 1100.9,1298.7 C1102.3,1296.9 1104.5,1296.3 1106.1,1295.6 C1107.6,1294.9 1108.5,1295.9 1110.2,1294.6 C1111.9,1293.2 1114.5,1289.1 1116.3,1287.4 C1118.2,1285.6 1119.8,1283.9 1121.5,1284.3 C1123.2,1284.6 1125.1,1286.5 1126.6,1289.4 C1128.2,1292.3 1129.4,1297.6 1130.7,1301.7 C1132.1,1305.9 1133.5,1309.6 1134.9,1314.1 C1136.2,1318.5 1137.6,1324.4 1139.0,1328.5 C1140.3,1332.6 1141.5,1335.7 1143.1,1338.8 C1144.6,1341.8 1146.2,1345.1 1148.2,1347.0 C1150.3,1348.9 1153.2,1349.4 1155.4,1350.1 C1157.6,1350.7 1159.7,1350.7 1161.6,1351.1 C1163.5,1351.4 1165.0,1352.5 1166.7,1352.1 C1168.4,1351.8 1170.0,1350.2 1171.9,1349.0 C1173.7,1347.8 1176.1,1346.8 1178.0,1344.9 C1179.9,1343.0 1181.5,1339.6 1183.2,1337.7 C1184.9,1335.8 1186.4,1334.6 1188.3,1333.6 C1190.2,1332.6 1192.4,1332.4 1194.5,1331.6 C1196.5,1330.7 1198.6,1329.5 1200.6,1328.5 C1202.7,1327.4 1204.8,1326.4 1206.8,1325.4 C1208.9,1324.4 1211.1,1323.7 1213.0,1322.3 C1214.9,1320.9 1216.4,1318.5 1218.1,1317.2 C1219.8,1315.8 1221.4,1315.1 1223.3,1314.1 C1225.1,1313.1 1227.4,1312.2 1229.4,1311.0 C1231.5,1309.8 1233.5,1308.4 1235.6,1306.9 C1237.6,1305.3 1239.7,1303.3 1241.8,1301.7 C1243.8,1300.2 1245.9,1299.2 1247.9,1297.6 C1250.0,1296.1 1252.0,1294.6 1254.1,1292.5 C1256.2,1290.4 1258.2,1287.2 1260.3,1285.3 C1262.3,1283.4 1264.4,1282.9 1266.4,1281.2 C1268.5,1279.5 1270.5,1277.8 1272.6,1275.0 C1274.7,1272.3 1276.7,1268.5 1278.8,1264.7 C1280.8,1261.0 1283.2,1256.2 1284.9,1252.4 C1286.6,1248.6 1287.7,1245.6 1289.0,1242.1 C1290.4,1238.7 1291.8,1235.3 1293.2,1231.8 C1294.5,1228.4 1295.9,1225.3 1297.3,1221.6 C1298.6,1217.8 1300.0,1213.0 1301.4,1209.2 C1302.8,1205.5 1304.1,1202.0 1305.5,1199.0 C1306.9,1195.9 1308.2,1193.3 1309.6,1190.7 C1311.0,1188.2 1312.3,1185.2 1313.7,1183.5 C1315.1,1181.8 1315.8,1181.1 1317.8,1180.4 C1319.9,1179.8 1324.0,1178.9 1326.1,1179.4 C1328.1,1179.9 1328.5,1181.8 1330.2,1183.5 C1331.9,1185.2 1334.6,1188.5 1336.3,1189.7 C1338.0,1190.9 1338.7,1191.2 1340.4,1190.7 C1342.2,1190.2 1344.9,1188.3 1346.6,1186.6 C1348.3,1184.9 1349.4,1182.8 1350.7,1180.4 C1352.1,1178.0 1353.1,1177.2 1354.8,1172.2 C1356.5,1167.2 1359.3,1156.0 1361.0,1150.3 C1362.7,1144.6 1363.7,1142.5 1365.1,1138.0 C1366.5,1133.5 1367.9,1128.4 1369.2,1123.6 C1370.6,1118.8 1371.8,1114.0 1373.3,1109.2 C1374.9,1104.4 1376.8,1099.3 1378.5,1094.8 C1380.2,1090.4 1381.9,1086.6 1383.6,1082.5 C1385.3,1078.4 1387.0,1073.9 1388.8,1070.2 C1390.5,1066.4 1392.4,1062.4 1393.9,1059.9 C1395.4,1057.3 1396.8,1055.4 1398.0,1054.7 C1399.2,1054.1 1400.1,1054.2 1401.1,1055.8 C1402.1,1057.3 1403.0,1060.2 1404.2,1064.0 C1405.4,1067.8 1406.9,1073.2 1408.3,1078.4 C1409.7,1083.5 1411.0,1089.3 1412.4,1094.8 C1413.8,1100.3 1415.1,1105.8 1416.5,1111.3 C1417.9,1116.8 1419.3,1123.3 1420.6,1127.7 C1422.0,1132.2 1423.4,1134.6 1424.7,1138.0 C1426.1,1141.4 1427.6,1145.2 1428.8,1148.3 C1430.0,1151.4 1430.2,1152.2 1431.9,1156.5 C1433.6,1160.8 1436.9,1169.9 1439.1,1174.3 C1441.4,1178.6 1442.9,1180.3 1445.3,1182.5 C1447.7,1184.7 1451.1,1187.0 1453.5,1187.6 C1455.9,1188.3 1457.6,1188.5 1459.7,1186.6 C1461.7,1184.7 1463.5,1179.5 1465.9,1176.3 C1468.3,1173.2 1472.1,1170.3 1474.1,1167.8 C1476.2,1165.4 1476.9,1163.0 1478.2,1161.7 C1479.6,1160.3 1481.1,1159.3 1482.3,1159.6 C1483.5,1160.0 1484.4,1161.7 1485.4,1163.7 C1486.4,1165.8 1487.5,1168.5 1488.5,1172.0 C1489.5,1175.4 1490.6,1179.8 1491.6,1184.3 C1492.6,1188.7 1493.6,1193.9 1494.7,1198.7 C1495.7,1203.5 1496.7,1208.3 1497.8,1213.1 C1498.8,1217.9 1499.8,1223.0 1500.8,1227.5 C1501.9,1231.9 1502.9,1235.7 1503.9,1239.8 C1505.0,1243.9 1506.0,1248.0 1507.0,1252.1 C1508.0,1256.2 1509.1,1260.4 1510.1,1264.5 C1511.1,1268.6 1512.0,1272.3 1513.2,1276.8 C1514.4,1281.3 1515.9,1286.4 1517.3,1291.2 C1518.7,1296.0 1520.0,1301.1 1521.4,1305.6 C1522.8,1310.0 1523.8,1314.5 1525.5,1317.9 C1527.2,1321.3 1529.3,1324.3 1531.7,1326.1 C1534.1,1328.0 1537.2,1328.7 1539.9,1329.2 C1542.6,1329.7 1545.4,1329.2 1548.1,1329.2 C1550.9,1329.2 1554.0,1328.9 1556.3,1329.2 C1558.7,1329.6 1560.8,1330.1 1562.5,1331.3 C1564.2,1332.5 1564.9,1334.2 1566.6,1336.4 C1568.3,1338.7 1570.7,1341.6 1572.8,1344.6 C1574.9,1347.7 1576.9,1351.5 1579.0,1354.9 C1581.0,1358.4 1583.1,1361.8 1585.1,1365.2 C1587.2,1368.6 1589.2,1372.4 1591.3,1375.5 C1593.4,1378.6 1595.4,1381.1 1597.5,1383.7 C1599.5,1386.3 1601.6,1389.0 1603.6,1390.9 C1605.7,1392.8 1607.7,1394.3 1609.8,1395.0 C1611.9,1395.7 1613.6,1395.2 1616.0,1395.0 C1618.4,1394.8 1621.8,1394.7 1624.2,1394.0 C1626.6,1393.3 1628.3,1392.3 1630.4,1390.9 C1632.4,1389.5 1634.5,1387.3 1636.5,1385.8 C1638.6,1384.2 1640.6,1382.7 1642.7,1381.7 C1644.8,1380.6 1646.5,1380.5 1648.9,1379.6 C1651.3,1378.7 1654.7,1376.9 1657.1,1376.5 C1659.5,1376.2 1661.2,1376.9 1663.3,1377.5 C1665.3,1378.2 1667.4,1379.6 1669.4,1380.6 C1671.5,1381.7 1673.5,1382.7 1675.6,1383.7 C1677.6,1384.7 1679.7,1385.8 1681.8,1386.8 C1683.8,1387.8 1685.9,1388.5 1687.9,1389.9 C1690.0,1391.2 1692.0,1393.0 1694.1,1395.0 C1696.2,1397.1 1698.2,1399.3 1700.3,1402.2 C1702.3,1405.1 1704.4,1409.4 1706.4,1412.5 C1708.5,1415.6 1710.5,1418.1 1712.6,1420.7 C1714.7,1423.3 1716.4,1425.9 1718.8,1427.9 C1721.2,1430.0 1724.2,1431.5 1727.0,1433.1 C1729.7,1434.6 1732.5,1436.1 1735.2,1437.2 C1738.0,1438.2 1740.5,1438.5 1743.4,1439.2 C1746.4,1439.9 1749.9,1441.4 1752.7,1441.3 C1755.4,1441.1 1757.3,1439.2 1759.9,1438.2 C1762.5,1437.2 1765.0,1435.8 1768.1,1435.1 C1771.2,1434.4 1775.3,1434.3 1778.4,1434.1 C1781.5,1433.9 1783.9,1434.1 1786.6,1434.1 C1789.4,1434.1 1792.4,1433.6 1794.8,1434.1 C1797.2,1434.6 1798.9,1436.5 1801.0,1437.2 C1803.1,1437.8 1804.8,1438.2 1807.2,1438.2 C1809.6,1438.2 1812.7,1437.0 1815.4,1437.2 C1818.1,1437.3 1820.9,1438.7 1823.6,1439.2 C1826.4,1439.7 1829.1,1440.2 1831.8,1440.2 C1834.6,1440.2 1837.7,1439.9 1840.1,1439.2 C1842.5,1438.5 1844.2,1437.8 1846.2,1436.1 C1848.3,1434.4 1850.3,1431.5 1852.4,1428.9 C1854.5,1426.4 1856.5,1423.8 1858.6,1420.7 C1860.6,1417.6 1863.0,1413.9 1864.7,1410.4 C1866.5,1407.0 1867.5,1403.9 1868.8,1400.2 C1870.2,1396.4 1871.6,1392.3 1873.0,1387.8 C1874.3,1383.4 1875.7,1378.6 1877.1,1373.4 C1878.4,1368.3 1879.8,1362.8 1881.2,1357.0 C1882.6,1351.2 1883.9,1345.0 1885.3,1338.5 C1886.7,1332.0 1888.0,1324.8 1889.4,1317.9 C1890.8,1311.1 1892.1,1304.2 1893.5,1297.4 C1894.9,1290.5 1896.0,1284.0 1897.6,1276.8 C1899.2,1269.6 1901.7,1260.4 1903.1,1254.2 C1904.5,1248.1 1905.0,1243.6 1906.2,1239.8 C1907.4,1236.1 1908.9,1233.3 1910.3,1231.6 C1911.7,1229.9 1913.0,1228.9 1914.4,1229.5 C1915.8,1230.2 1917.1,1233.3 1918.5,1235.7 C1919.9,1238.1 1920.9,1241.5 1922.6,1243.9 C1924.3,1246.3 1926.9,1249.8 1928.8,1250.1 C1930.7,1250.5 1932.2,1248.1 1933.9,1246.0 C1935.6,1243.9 1937.4,1241.2 1939.1,1237.8 C1940.8,1234.3 1942.7,1230.2 1944.2,1225.4 C1945.8,1220.6 1947.0,1213.8 1948.3,1209.0 C1949.7,1204.2 1950.9,1200.4 1952.4,1196.6 C1954.0,1192.9 1956.0,1188.4 1957.6,1186.4 C1959.1,1184.3 1960.2,1184.1 1961.7,1184.3 C1963.2,1184.5 1965.3,1185.7 1966.8,1187.4 C1968.4,1189.1 1969.6,1191.7 1971.0,1194.6 C1972.3,1197.5 1973.7,1200.8 1975.1,1204.9 C1976.4,1209.0 1977.8,1214.1 1979.2,1219.3 C1980.5,1224.4 1982.1,1230.2 1983.3,1235.7 C1984.5,1241.2 1985.3,1246.7 1986.4,1252.2 C1987.4,1257.7 1988.4,1263.1 1989.5,1268.6 C1990.5,1274.1 1991.5,1279.9 1992.5,1285.1 C1993.6,1290.2 1994.3,1295.0 1995.6,1299.5 C1997.0,1303.9 1998.9,1308.4 2000.8,1311.8 C2002.7,1315.2 2005.1,1319.3 2006.9,1320.0 C2008.8,1320.7 2010.4,1316.9 2012.1,1315.9 C2013.8,1314.9 2015.5,1313.2 2017.2,1313.9 C2018.9,1314.5 2020.8,1317.3 2022.4,1320.0 C2023.9,1322.8 2025.1,1326.5 2026.5,1330.3 C2027.8,1334.1 2029.2,1338.9 2030.6,1342.7 C2032.0,1346.4 2033.2,1349.5 2034.7,1352.9 C2036.2,1356.4 2038.3,1359.8 2039.8,1363.2 C2041.4,1366.6 2042.6,1370.1 2044.0,1373.5 C2045.3,1376.9 2046.5,1380.4 2048.1,1383.8 C2049.6,1387.2 2051.3,1391.0 2053.2,1394.1 C2055.1,1397.2 2057.2,1399.9 2059.4,1402.3 C2061.6,1404.7 2064.4,1406.8 2066.6,1408.5 C2068.8,1410.2 2070.7,1411.6 2072.8,1412.6 C2074.8,1413.6 2076.9,1415.0 2078.9,1414.6 C2081.0,1414.3 2083.0,1411.9 2085.1,1410.5 C2087.1,1409.2 2089.5,1406.4 2091.3,1406.4 C2093.0,1406.4 2094.0,1408.5 2095.4,1410.5 C2096.7,1412.6 2097.9,1416.0 2099.5,1418.7 C2101.0,1421.5 2102.6,1425.4 2104.6,1427.0 C2106.7,1428.5 2109.6,1427.7 2111.8,1428.0 C2114.1,1428.3 2115.9,1428.5 2118.0,1429.0 C2120.1,1429.5 2122.1,1431.4 2124.2,1431.1 C2126.2,1430.7 2128.3,1427.3 2130.3,1427.0 C2132.4,1426.6 2134.6,1427.7 2136.5,1429.0 C2138.4,1430.4 2139.6,1433.5 2141.6,1435.2 C2143.7,1436.9 2146.6,1437.9 2148.8,1439.3 C2151.1,1440.7 2153.0,1442.1 2155.0,1443.4 C2157.1,1444.8 2158.8,1446.7 2161.2,1447.5 C2163.6,1448.4 2166.7,1448.4 2169.4,1448.6 C2172.2,1448.7 2175.2,1448.6 2177.6,1448.6 C2180.0,1448.6 2181.7,1449.1 2183.8,1448.6 C2185.9,1448.1 2187.9,1446.3 2190.0,1445.5 C2192.0,1444.6 2194.1,1443.4 2196.1,1443.4 C2198.2,1443.4 2199.6,1445.5 2202.3,1445.5 C2205.1,1445.5 2210.6,1443.8 2212.6,1443.4 C2214.5,1443.0 2213.8,1443.2 2214.0,1443.1" stroke="#3AAD6C"/>
<path d="M184.0,1273.9 C184.5,1274.8 185.8,1276.8 187.2,1279.0 C188.6,1281.3 190.1,1285.0 192.3,1287.3 C194.6,1289.5 198.2,1290.7 200.6,1292.4 C203.0,1294.1 204.3,1295.3 206.7,1297.5 C209.1,1299.8 212.6,1303.7 215.0,1305.8 C217.3,1307.8 218.7,1308.3 221.1,1309.9 C223.5,1311.4 226.6,1313.5 229.3,1315.0 C232.1,1316.6 234.8,1317.8 237.6,1319.1 C240.3,1320.5 243.0,1321.7 245.8,1323.2 C248.5,1324.8 251.3,1327.4 254.0,1328.4 C256.8,1329.4 259.5,1329.4 262.2,1329.4 C265.0,1329.4 268.1,1328.2 270.5,1328.4 C272.9,1328.6 274.6,1329.6 276.6,1330.4 C278.7,1331.3 280.7,1333.7 282.8,1333.5 C284.9,1333.4 286.6,1330.3 289.0,1329.4 C291.4,1328.6 294.8,1327.9 297.2,1328.4 C299.6,1328.9 301.3,1330.8 303.4,1332.5 C305.4,1334.2 307.5,1338.3 309.5,1338.7 C311.6,1339.0 313.6,1335.9 315.7,1334.5 C317.7,1333.2 319.8,1331.5 321.9,1330.4 C323.9,1329.4 326.1,1329.8 328.0,1328.4 C329.9,1327.0 331.5,1326.3 333.2,1322.2 C334.9,1318.1 336.8,1311.6 338.3,1303.7 C339.8,1295.8 341.0,1283.5 342.4,1274.9 C343.8,1266.4 345.3,1254.7 346.5,1252.3 C347.7,1249.9 348.6,1255.4 349.6,1260.5 C350.6,1265.7 351.7,1274.2 352.7,1283.2 C353.7,1292.1 354.8,1305.4 355.8,1314.0 C356.8,1322.6 357.7,1329.4 358.9,1334.5 C360.1,1339.7 361.3,1341.7 363.0,1344.8 C364.7,1347.9 367.1,1351.0 369.1,1353.1 C371.2,1355.1 373.3,1355.8 375.3,1357.2 C377.4,1358.5 379.4,1360.8 381.5,1361.3 C383.5,1361.8 385.6,1360.4 387.6,1360.2 C389.7,1360.1 391.8,1359.7 393.8,1360.2 C395.9,1360.8 397.9,1363.2 400.0,1363.3 C402.0,1363.5 404.1,1362.6 406.2,1361.3 C408.2,1359.9 410.3,1357.8 412.3,1355.1 C414.4,1352.4 416.8,1348.9 418.5,1344.8 C420.2,1340.7 421.2,1334.4 422.6,1330.4 C424.0,1326.5 425.3,1322.2 426.7,1321.2 C428.1,1320.2 429.5,1321.7 430.8,1324.3 C432.2,1326.8 433.6,1332.5 434.9,1336.6 C436.3,1340.7 437.3,1346.2 439.0,1348.9 C440.8,1351.7 442.8,1352.4 445.2,1353.1 C447.6,1353.7 450.7,1352.9 453.4,1353.1 C456.2,1353.2 459.3,1353.6 461.7,1354.1 C464.1,1354.6 465.4,1356.0 467.8,1356.1 C470.2,1356.3 473.3,1355.3 476.1,1355.1 C478.8,1354.9 481.9,1355.5 484.3,1355.1 C486.7,1354.8 488.4,1353.7 490.4,1353.1 C492.5,1352.4 494.6,1352.0 496.6,1351.0 C498.7,1350.0 500.7,1348.1 502.8,1346.9 C504.8,1345.7 506.5,1344.7 508.9,1343.8 C511.3,1342.9 514.4,1342.6 517.2,1341.7 C519.9,1340.9 522.7,1339.9 525.4,1338.7 C528.1,1337.5 530.9,1335.9 533.6,1334.5 C536.4,1333.2 539.1,1331.1 541.8,1330.4 C544.6,1329.8 547.7,1330.1 550.1,1330.4 C552.5,1330.8 554.2,1331.6 556.2,1332.5 C558.3,1333.4 560.7,1335.6 562.4,1335.6 C564.1,1335.6 565.1,1334.4 566.5,1332.5 C567.9,1330.6 569.3,1326.5 570.6,1324.3 C572.0,1322.0 573.4,1319.5 574.7,1319.1 C576.1,1318.8 577.5,1320.0 578.8,1322.2 C580.2,1324.4 581.6,1328.7 583.0,1332.5 C584.3,1336.3 585.7,1342.4 587.1,1344.8 C588.4,1347.2 587.3,1357.6 591.2,1346.9 C595.1,1336.2 606.8,1296.6 610.6,1280.4 C614.3,1264.2 612.6,1258.2 613.6,1249.6 C614.7,1241.0 615.6,1233.8 616.7,1229.0 C617.9,1224.2 619.2,1220.8 620.4,1220.8 C621.6,1220.8 622.7,1224.2 623.9,1229.0 C625.2,1233.8 626.8,1242.7 628.0,1249.6 C629.2,1256.4 630.1,1264.0 631.1,1270.2 C632.1,1276.3 632.2,1279.9 634.2,1286.6 C636.3,1293.3 640.8,1304.3 643.4,1310.3 C646.0,1316.3 647.5,1318.5 649.6,1322.6 C651.6,1326.7 653.7,1330.5 655.7,1334.9 C657.8,1339.4 659.8,1344.5 661.9,1349.3 C664.0,1354.1 666.0,1358.9 668.1,1363.7 C670.1,1368.5 672.5,1374.0 674.2,1378.1 C675.9,1382.2 676.6,1385.6 678.3,1388.3 C680.0,1391.1 682.4,1392.8 684.5,1394.5 C686.5,1396.2 688.6,1397.7 690.7,1398.6 C692.7,1399.5 694.8,1400.0 696.8,1399.6 C698.9,1399.3 700.6,1397.2 703.0,1396.5 C705.4,1395.9 708.8,1395.5 711.2,1395.5 C713.6,1395.5 715.0,1396.0 717.4,1396.5 C719.8,1397.1 723.2,1397.9 725.6,1398.6 C728.0,1399.3 729.7,1399.6 731.7,1400.7 C733.8,1401.7 735.5,1404.4 737.9,1404.8 C740.3,1405.1 743.7,1402.9 746.1,1402.7 C748.5,1402.5 750.2,1403.1 752.3,1403.7 C754.3,1404.4 756.1,1406.8 758.4,1406.8 C760.8,1406.8 763.9,1404.4 766.7,1403.7 C769.4,1403.1 772.1,1403.4 774.9,1402.7 C777.6,1402.0 780.4,1400.5 783.1,1399.6 C785.8,1398.8 788.9,1397.4 791.3,1397.6 C793.7,1397.7 795.4,1400.5 797.5,1400.7 C799.5,1400.8 801.6,1400.0 803.6,1398.6 C805.7,1397.2 807.7,1393.6 809.8,1392.4 C811.9,1391.2 813.6,1391.4 816.0,1391.4 C818.4,1391.4 821.4,1391.9 824.2,1392.4 C826.9,1393.0 829.7,1394.0 832.4,1394.5 C835.1,1395.0 838.2,1395.7 840.6,1395.5 C843.0,1395.4 844.7,1394.7 846.8,1393.5 C848.8,1392.3 850.9,1390.2 852.9,1388.3 C855.0,1386.4 857.1,1384.6 859.1,1382.2 C861.2,1379.8 863.2,1377.4 865.3,1374.0 C867.3,1370.5 869.5,1365.7 871.4,1361.6 C873.3,1357.5 875.2,1352.2 876.6,1349.3 C877.9,1346.4 878.4,1344.5 879.6,1344.2 C880.8,1343.8 882.4,1345.0 883.8,1347.2 C885.1,1349.5 886.5,1354.1 887.9,1357.5 C889.2,1360.9 890.3,1364.7 892.0,1367.8 C893.7,1370.9 895.7,1373.6 898.1,1376.0 C900.5,1378.4 903.6,1380.8 906.4,1382.2 C909.1,1383.5 911.8,1383.5 914.6,1384.2 C917.3,1384.9 920.0,1385.3 922.8,1386.3 C925.5,1387.3 928.3,1389.7 931.0,1390.4 C933.7,1391.1 936.5,1390.2 939.2,1390.4 C942.0,1390.6 944.7,1390.7 947.4,1391.4 C950.2,1392.1 953.3,1393.3 955.7,1394.5 C958.0,1395.7 959.4,1397.2 961.8,1398.6 C964.2,1400.0 967.3,1401.7 970.0,1402.7 C972.8,1403.7 975.5,1404.1 978.2,1404.8 C981.0,1405.5 983.7,1406.3 986.5,1406.8 C989.2,1407.3 992.3,1407.5 994.7,1407.8 C997.1,1408.2 998.8,1408.4 1000.8,1408.9 C1002.9,1409.4 1005.3,1408.5 1007.0,1410.9 C1008.7,1413.3 1009.7,1419.1 1011.1,1423.3 C1012.5,1427.4 1013.9,1434.9 1015.2,1435.6 C1016.6,1436.3 1018.0,1429.4 1019.3,1427.4 C1020.7,1425.3 1022.1,1422.6 1023.4,1423.3 C1024.8,1423.9 1025.4,1427.4 1027.6,1431.5 C1029.7,1435.5 1034.2,1442.6 1036.2,1447.7 C1038.1,1452.8 1038.2,1459.0 1039.3,1462.1 C1040.3,1465.2 1041.0,1464.8 1042.3,1466.2 C1043.7,1467.6 1045.8,1468.3 1047.5,1470.3 C1049.2,1472.4 1050.7,1475.8 1052.6,1478.6 C1054.5,1481.3 1056.7,1485.4 1058.8,1486.8 C1060.8,1488.2 1062.9,1486.4 1065.0,1486.8 C1067.0,1487.1 1069.4,1488.8 1071.1,1488.8 C1072.8,1488.8 1073.7,1487.5 1075.2,1486.8 C1076.8,1486.1 1078.7,1484.4 1080.4,1484.7 C1082.1,1485.1 1083.8,1487.8 1085.5,1488.8 C1087.2,1489.9 1089.3,1492.3 1090.6,1490.9 C1092.0,1489.5 1092.7,1484.7 1093.7,1480.6 C1094.8,1476.5 1095.8,1469.3 1096.8,1466.2 C1097.8,1463.1 1098.9,1462.5 1099.9,1462.1 C1100.9,1461.8 1102.0,1461.8 1103.0,1464.2 C1104.0,1466.6 1105.0,1472.0 1106.1,1476.5 C1107.1,1481.0 1108.1,1487.5 1109.2,1490.9 C1110.2,1494.3 1111.2,1496.7 1112.2,1497.1 C1113.3,1497.4 1114.5,1496.7 1115.3,1492.9 C1116.2,1489.2 1116.5,1479.1 1117.4,1474.4 C1118.2,1469.8 1119.4,1466.6 1120.5,1465.2 C1121.5,1463.8 1122.5,1464.3 1123.5,1466.2 C1124.6,1468.1 1125.4,1472.7 1126.6,1476.5 C1127.8,1480.3 1129.4,1485.4 1130.7,1488.8 C1132.1,1492.3 1133.3,1495.3 1134.9,1497.1 C1136.4,1498.8 1138.3,1499.8 1140.0,1499.1 C1141.7,1498.4 1143.4,1495.0 1145.1,1492.9 C1146.8,1490.9 1148.6,1489.2 1150.3,1486.8 C1152.0,1484.4 1153.7,1482.3 1155.4,1478.6 C1157.1,1474.8 1158.8,1468.6 1160.6,1464.2 C1162.3,1459.7 1163.8,1455.9 1165.7,1451.8 C1167.6,1447.7 1170.1,1443.9 1171.9,1439.5 C1173.6,1435.0 1174.6,1429.6 1176.0,1425.1 C1177.3,1420.6 1178.4,1416.5 1180.1,1412.8 C1181.8,1409.0 1184.2,1404.9 1186.2,1402.5 C1188.3,1400.1 1190.4,1400.4 1192.4,1398.4 C1194.5,1396.3 1196.2,1392.2 1198.6,1390.2 C1201.0,1388.1 1204.4,1387.8 1206.8,1386.0 C1209.2,1384.3 1211.3,1381.9 1213.0,1379.9 C1214.7,1377.8 1215.7,1375.8 1217.1,1373.7 C1218.5,1371.6 1219.5,1369.6 1221.2,1367.5 C1222.9,1365.5 1225.0,1363.1 1227.4,1361.4 C1229.8,1359.7 1233.2,1359.3 1235.6,1357.3 C1238.0,1355.2 1239.7,1351.4 1241.8,1349.0 C1243.8,1346.6 1245.9,1344.7 1247.9,1342.9 C1250.0,1341.0 1252.0,1338.9 1254.1,1337.7 C1256.2,1336.5 1258.2,1337.2 1260.3,1335.7 C1262.3,1334.1 1264.4,1330.4 1266.4,1328.5 C1268.5,1326.6 1270.5,1325.9 1272.6,1324.4 C1274.7,1322.8 1276.7,1321.6 1278.8,1319.2 C1280.8,1316.8 1282.9,1312.9 1284.9,1310.0 C1287.0,1307.1 1289.0,1303.6 1291.1,1301.7 C1293.2,1299.9 1294.9,1300.4 1297.3,1298.7 C1299.7,1296.9 1303.1,1293.2 1305.5,1291.5 C1307.9,1289.8 1308.9,1289.1 1311.7,1288.4 C1314.4,1287.7 1319.2,1287.2 1321.9,1287.4 C1324.7,1287.5 1326.1,1288.0 1328.1,1289.4 C1330.2,1290.8 1332.4,1294.0 1334.3,1295.6 C1336.2,1297.1 1337.7,1298.7 1339.4,1298.7 C1341.1,1298.7 1342.7,1297.5 1344.6,1295.6 C1346.4,1293.7 1348.3,1289.8 1350.7,1287.4 C1353.1,1285.0 1356.5,1283.2 1358.9,1281.2 C1361.3,1279.1 1363.1,1276.9 1365.1,1275.0 C1367.2,1273.1 1369.2,1271.6 1371.3,1269.9 C1373.3,1268.2 1375.4,1267.0 1377.5,1264.7 C1379.5,1262.5 1381.6,1259.1 1383.6,1256.5 C1385.7,1253.9 1387.7,1250.9 1389.8,1249.3 C1391.8,1247.8 1393.9,1247.4 1396.0,1247.3 C1398.0,1247.1 1400.1,1247.4 1402.1,1248.3 C1404.2,1249.1 1406.2,1250.3 1408.3,1252.4 C1410.3,1254.5 1412.4,1257.2 1414.5,1260.6 C1416.5,1264.1 1418.6,1268.9 1420.6,1273.0 C1422.7,1277.1 1424.7,1281.5 1426.8,1285.3 C1428.8,1289.1 1430.9,1292.8 1433.0,1295.6 C1435.0,1298.3 1437.1,1299.7 1439.1,1301.7 C1441.2,1303.8 1443.2,1306.2 1445.3,1307.9 C1447.4,1309.6 1449.1,1310.8 1451.5,1312.0 C1453.9,1313.2 1457.3,1315.1 1459.7,1315.1 C1462.1,1315.1 1463.5,1313.6 1465.9,1312.0 C1468.3,1310.4 1472.1,1307.0 1474.1,1305.6 C1476.2,1304.2 1476.9,1303.5 1478.2,1303.5 C1479.6,1303.5 1481.0,1303.9 1482.3,1305.6 C1483.7,1307.3 1485.1,1310.4 1486.4,1313.8 C1487.8,1317.2 1489.2,1322.0 1490.6,1326.1 C1491.9,1330.3 1493.3,1334.4 1494.7,1338.5 C1496.0,1342.6 1497.4,1347.0 1498.8,1350.8 C1500.2,1354.6 1501.5,1357.7 1502.9,1361.1 C1504.3,1364.5 1505.6,1367.9 1507.0,1371.4 C1508.4,1374.8 1509.7,1378.6 1511.1,1381.7 C1512.5,1384.7 1513.9,1387.5 1515.2,1389.9 C1516.6,1392.3 1518.0,1394.0 1519.3,1396.0 C1520.7,1398.1 1521.7,1400.8 1523.5,1402.2 C1525.2,1403.6 1527.6,1404.3 1529.6,1404.3 C1531.7,1404.3 1533.9,1403.2 1535.8,1402.2 C1537.7,1401.2 1539.2,1399.0 1540.9,1398.1 C1542.6,1397.2 1544.4,1396.6 1546.1,1397.1 C1547.8,1397.6 1549.5,1400.0 1551.2,1401.2 C1552.9,1402.4 1554.6,1404.1 1556.3,1404.3 C1558.1,1404.4 1559.8,1402.7 1561.5,1402.2 C1563.2,1401.7 1564.9,1400.5 1566.6,1401.2 C1568.3,1401.9 1570.1,1404.1 1571.8,1406.3 C1573.5,1408.6 1575.0,1412.3 1576.9,1414.5 C1578.8,1416.8 1581.0,1418.5 1583.1,1419.7 C1585.1,1420.9 1587.2,1421.1 1589.2,1421.7 C1591.3,1422.4 1593.4,1423.5 1595.4,1423.8 C1597.5,1424.1 1599.5,1424.1 1601.6,1423.8 C1603.6,1423.5 1605.7,1422.9 1607.7,1421.7 C1609.8,1420.5 1611.9,1418.1 1613.9,1416.6 C1616.0,1415.1 1618.0,1413.5 1620.1,1412.5 C1622.1,1411.5 1624.2,1411.3 1626.2,1410.4 C1628.3,1409.6 1630.4,1408.4 1632.4,1407.4 C1634.5,1406.3 1636.5,1405.3 1638.6,1404.3 C1640.6,1403.2 1642.7,1402.2 1644.8,1401.2 C1646.8,1400.2 1648.9,1399.0 1650.9,1398.1 C1653.0,1397.2 1655.0,1396.4 1657.1,1396.0 C1659.1,1395.7 1661.2,1396.4 1663.3,1396.0 C1665.3,1395.7 1667.4,1394.7 1669.4,1394.0 C1671.5,1393.3 1673.5,1392.1 1675.6,1391.9 C1677.6,1391.8 1679.7,1392.6 1681.8,1393.0 C1683.8,1393.3 1685.9,1393.6 1687.9,1394.0 C1690.0,1394.3 1692.0,1394.3 1694.1,1395.0 C1696.2,1395.7 1698.2,1396.9 1700.3,1398.1 C1702.3,1399.3 1704.0,1401.0 1706.4,1402.2 C1708.8,1403.4 1711.9,1404.4 1714.7,1405.3 C1717.4,1406.2 1720.1,1406.8 1722.9,1407.4 C1725.6,1407.9 1728.4,1408.6 1731.1,1408.4 C1733.8,1408.2 1736.6,1406.7 1739.3,1406.3 C1742.1,1406.0 1744.5,1406.3 1747.5,1406.3 C1750.6,1406.3 1754.7,1406.3 1757.8,1406.3 C1760.9,1406.3 1763.3,1406.3 1766.1,1406.3 C1768.8,1406.3 1771.5,1406.5 1774.3,1406.3 C1777.0,1406.2 1779.8,1405.5 1782.5,1405.3 C1785.2,1405.1 1788.3,1405.8 1790.7,1405.3 C1793.1,1404.8 1794.8,1402.9 1796.9,1402.2 C1798.9,1401.5 1801.0,1400.7 1803.1,1401.2 C1805.1,1401.7 1807.2,1403.9 1809.2,1405.3 C1811.3,1406.7 1813.0,1408.0 1815.4,1409.4 C1817.8,1410.8 1820.9,1412.5 1823.6,1413.5 C1826.4,1414.5 1829.1,1415.2 1831.8,1415.6 C1834.6,1415.9 1837.7,1415.9 1840.1,1415.6 C1842.5,1415.2 1844.2,1414.5 1846.2,1413.5 C1848.3,1412.5 1850.3,1411.0 1852.4,1409.4 C1854.5,1407.9 1856.5,1405.5 1858.6,1404.3 C1860.6,1403.1 1862.7,1402.0 1864.7,1402.2 C1866.8,1402.4 1868.8,1404.8 1870.9,1405.3 C1873.0,1405.8 1875.0,1405.8 1877.1,1405.3 C1879.1,1404.8 1881.2,1403.1 1883.2,1402.2 C1885.3,1401.4 1887.4,1401.5 1889.4,1400.2 C1891.5,1398.8 1892.8,1396.9 1895.6,1394.0 C1898.4,1391.1 1903.4,1383.9 1906.2,1382.8 C1909.0,1381.6 1910.3,1385.7 1912.3,1386.9 C1914.4,1388.1 1916.6,1390.1 1918.5,1390.0 C1920.4,1389.8 1921.9,1387.2 1923.7,1385.8 C1925.4,1384.5 1927.2,1381.9 1928.8,1381.7 C1930.3,1381.6 1931.7,1383.1 1932.9,1384.8 C1934.1,1386.5 1934.8,1390.0 1936.0,1392.0 C1937.2,1394.1 1938.7,1397.8 1940.1,1397.2 C1941.5,1396.5 1942.8,1391.5 1944.2,1387.9 C1945.6,1384.3 1947.0,1379.3 1948.3,1375.6 C1949.7,1371.8 1951.2,1367.3 1952.4,1365.3 C1953.6,1363.2 1954.5,1362.5 1955.5,1363.2 C1956.6,1363.9 1957.4,1366.6 1958.6,1369.4 C1959.8,1372.1 1961.2,1376.6 1962.7,1379.7 C1964.3,1382.8 1966.0,1385.2 1967.9,1387.9 C1969.8,1390.6 1972.0,1393.6 1974.0,1396.1 C1976.1,1398.7 1978.1,1400.9 1980.2,1403.3 C1982.3,1405.7 1984.7,1408.8 1986.4,1410.5 C1988.1,1412.2 1989.1,1413.9 1990.5,1413.6 C1991.9,1413.3 1993.2,1411.0 1994.6,1408.5 C1996.0,1405.9 1997.3,1401.6 1998.7,1398.2 C2000.1,1394.8 2001.5,1390.3 2002.8,1387.9 C2004.2,1385.5 2005.4,1384.1 2006.9,1383.8 C2008.5,1383.4 2010.4,1384.8 2012.1,1385.8 C2013.8,1386.9 2015.3,1388.4 2017.2,1390.0 C2019.1,1391.5 2021.5,1393.4 2023.4,1395.1 C2025.3,1396.8 2026.8,1398.9 2028.5,1400.2 C2030.2,1401.6 2031.8,1403.2 2033.7,1403.3 C2035.6,1403.5 2038.1,1402.1 2039.8,1401.3 C2041.6,1400.4 2042.2,1398.9 2044.0,1398.2 C2045.7,1397.5 2048.2,1396.6 2050.1,1397.2 C2052.0,1397.7 2053.6,1399.4 2055.3,1401.3 C2057.0,1403.2 2058.5,1406.4 2060.4,1408.5 C2062.3,1410.5 2064.5,1412.1 2066.6,1413.6 C2068.6,1415.1 2070.7,1416.9 2072.8,1417.7 C2074.8,1418.6 2076.9,1419.4 2078.9,1418.7 C2081.0,1418.1 2083.4,1415.3 2085.1,1413.6 C2086.8,1411.9 2087.7,1410.2 2089.2,1408.5 C2090.7,1406.8 2092.6,1404.0 2094.3,1403.3 C2096.1,1402.6 2097.6,1404.4 2099.5,1404.4 C2101.4,1404.4 2103.6,1403.7 2105.7,1403.3 C2107.7,1403.0 2109.8,1402.5 2111.8,1402.3 C2113.9,1402.1 2115.9,1402.3 2118.0,1402.3 C2120.1,1402.3 2122.1,1402.6 2124.2,1402.3 C2126.2,1402.0 2128.3,1400.6 2130.3,1400.2 C2132.4,1399.9 2134.4,1400.6 2136.5,1400.2 C2138.6,1399.9 2140.6,1398.9 2142.7,1398.2 C2144.7,1397.5 2147.0,1396.0 2148.8,1396.1 C2150.7,1396.3 2152.3,1397.8 2154.0,1399.2 C2155.7,1400.6 2157.2,1402.8 2159.1,1404.4 C2161.0,1405.9 2163.2,1407.8 2165.3,1408.5 C2167.4,1409.2 2169.4,1409.0 2171.5,1408.5 C2173.5,1408.0 2175.6,1406.6 2177.6,1405.4 C2179.7,1404.2 2181.7,1402.8 2183.8,1401.3 C2185.9,1399.7 2187.9,1397.2 2190.0,1396.1 C2192.0,1395.1 2194.1,1395.1 2196.1,1395.1 C2198.2,1395.1 2200.3,1396.6 2202.3,1396.1 C2204.4,1395.6 2206.8,1394.1 2208.5,1392.0 C2210.2,1390.0 2211.7,1385.6 2212.6,1383.8 C2213.5,1381.9 2213.8,1381.4 2214.0,1381.0" stroke="#B07ADF"/>
<path d="M184.0,776.6 C184.4,778.5 185.6,783.9 186.5,788.0 C187.4,792.1 188.5,797.2 189.5,801.5 C190.5,805.8 190.6,806.9 192.3,814.0 C194.0,821.1 197.1,832.8 199.5,843.9 C201.9,855.1 204.2,869.3 206.7,880.9 C209.3,892.6 212.6,902.9 215.0,913.8 C217.3,924.8 218.7,935.1 221.1,946.7 C223.5,958.4 226.9,974.8 229.3,983.7 C231.7,992.6 233.5,994.0 235.5,1000.2 C237.6,1006.3 239.3,1014.6 241.7,1020.7 C244.1,1026.9 247.2,1032.4 249.9,1037.2 C252.6,1042.0 255.4,1044.1 258.1,1049.5 C260.9,1054.9 264.3,1064.7 266.3,1069.3 C268.4,1074.0 268.7,1074.8 270.5,1077.6 C272.2,1080.3 274.6,1083.6 276.6,1085.8 C278.7,1088.0 281.1,1089.7 282.8,1090.9 C284.5,1092.1 285.2,1091.4 286.9,1093.0 C288.6,1094.5 291.0,1097.6 293.1,1100.2 C295.1,1102.7 297.2,1105.3 299.2,1108.4 C301.3,1111.5 303.1,1117.3 305.4,1118.7 C307.7,1120.0 310.9,1116.0 312.9,1116.6 C314.9,1117.2 315.9,1120.5 317.2,1122.4 C318.5,1124.3 319.6,1128.1 320.8,1128.1 C322.0,1128.1 322.8,1125.8 324.4,1122.4 C325.9,1119.1 328.3,1113.3 330.1,1108.0 C331.9,1102.7 333.8,1097.2 335.2,1090.7 C336.6,1084.2 337.9,1078.7 338.8,1069.1 C339.8,1059.5 340.3,1046.4 340.9,1033.2 C341.5,1020.0 342.0,1002.4 342.4,990.0 C342.8,977.6 342.7,968.6 343.4,959.0 C344.1,949.4 345.6,933.7 346.7,932.3 C347.8,930.9 349.3,943.1 350.1,950.4 C350.9,957.7 351.0,969.7 351.3,976.3 C351.6,982.9 351.1,980.5 351.7,990.0 C352.2,999.5 353.6,1018.8 354.6,1033.2 C355.6,1047.6 356.5,1061.9 357.5,1076.3 C358.5,1090.7 359.4,1106.3 360.4,1119.5 C361.3,1132.7 362.2,1144.7 363.2,1155.5 C364.1,1166.3 364.9,1177.7 366.1,1184.2 C367.3,1190.7 368.7,1190.7 370.4,1194.3 C372.1,1197.9 374.3,1202.4 376.2,1205.8 C378.1,1209.2 379.0,1213.6 381.9,1214.5 C384.8,1215.4 391.1,1211.9 393.8,1211.2 C396.5,1210.5 396.2,1210.3 397.9,1210.2 C399.6,1210.0 402.0,1211.4 404.1,1210.2 C406.2,1209.0 408.4,1205.9 410.3,1203.0 C412.1,1200.1 414.0,1197.1 415.4,1192.7 C416.8,1188.2 417.5,1183.4 418.5,1176.2 C419.5,1169.0 420.5,1159.1 421.6,1149.5 C422.6,1139.9 423.6,1126.2 424.7,1118.7 C425.7,1111.1 426.7,1104.3 427.7,1104.3 C428.8,1104.3 429.6,1111.1 430.8,1118.7 C432.0,1126.2 433.7,1141.0 434.9,1149.5 C436.1,1158.1 436.6,1164.3 438.0,1170.1 C439.4,1175.9 441.3,1179.7 443.2,1184.5 C445.0,1189.3 447.3,1194.7 449.3,1198.9 C451.4,1203.0 453.1,1206.7 455.5,1209.1 C457.9,1211.5 461.3,1211.5 463.7,1213.2 C466.1,1215.0 467.8,1217.4 469.9,1219.4 C471.9,1221.5 473.7,1223.7 476.1,1225.6 C478.5,1227.5 482.2,1230.2 484.3,1230.7 C486.3,1231.2 487.0,1229.4 488.4,1228.7 C489.8,1228.0 490.4,1226.8 492.5,1226.6 C494.6,1226.4 498.3,1229.2 500.7,1227.6 C503.1,1226.1 504.5,1220.1 506.9,1217.4 C509.3,1214.6 512.7,1211.9 515.1,1211.2 C517.5,1210.5 519.2,1213.2 521.3,1213.2 C523.3,1213.2 525.7,1212.6 527.5,1211.2 C529.2,1209.8 530.2,1208.5 531.6,1205.0 C532.9,1201.6 534.5,1196.1 535.7,1190.6 C536.9,1185.2 537.7,1176.1 538.8,1172.1 C539.8,1168.2 540.6,1167.0 541.8,1167.0 C543.0,1167.0 544.2,1170.4 546.0,1172.1 C547.7,1173.8 550.4,1175.9 552.1,1177.3 C553.8,1178.6 554.9,1177.4 556.2,1180.4 C557.6,1183.3 559.0,1189.9 560.3,1194.7 C561.7,1199.5 563.1,1206.7 564.5,1209.1 C565.8,1211.5 567.2,1211.2 568.6,1209.1 C569.9,1207.1 571.5,1201.3 572.7,1196.8 C573.9,1192.3 574.6,1184.5 575.8,1182.4 C577.0,1180.4 578.7,1181.4 579.9,1184.5 C581.1,1187.6 581.8,1195.1 583.0,1200.9 C584.2,1206.7 585.7,1213.9 587.1,1219.4 C588.4,1224.9 588.8,1239.1 591.2,1233.8 C593.6,1228.6 599.1,1200.7 601.3,1187.9 C603.5,1175.1 603.5,1167.4 604.4,1157.1 C605.2,1146.8 605.8,1138.2 606.4,1126.2 C607.1,1114.2 607.6,1113.8 608.5,1085.1 C609.4,1056.5 610.3,992.9 611.6,954.3 C612.8,915.7 615.1,877.2 616.0,853.4 C616.9,829.7 616.6,825.8 616.9,812.0 C617.3,798.2 617.9,784.4 618.3,770.5 C618.8,756.7 619.2,741.8 619.7,729.1 C620.2,716.4 620.5,702.8 621.1,694.5 C621.7,686.3 622.2,680.5 623.2,679.3 C624.2,678.2 626.1,681.6 627.0,687.6 C628.0,693.6 628.1,706.1 628.7,715.3 C629.3,724.5 630.1,732.1 630.8,742.9 C631.4,753.7 631.6,765.8 632.4,780.0 C633.2,794.2 634.6,813.6 635.6,828.4 C636.7,843.2 637.8,855.3 638.9,868.7 C639.9,882.2 640.9,894.2 642.1,909.0 C643.3,923.8 644.8,942.6 646.1,957.4 C647.5,972.2 648.7,983.0 650.2,997.7 C651.6,1012.5 654.1,1033.3 655.0,1046.1 C655.9,1059.0 655.1,1064.9 655.8,1074.8 C656.4,1084.8 658.0,1095.4 658.9,1105.7 C659.7,1116.0 660.1,1124.5 660.9,1136.5 C661.8,1148.5 663.0,1163.9 664.0,1177.6 C665.0,1191.3 666.1,1206.8 667.1,1218.8 C668.1,1230.7 669.2,1239.3 670.2,1249.6 C671.2,1259.9 671.6,1269.3 673.3,1280.4 C675.0,1291.6 678.5,1308.0 680.4,1316.4 C682.3,1324.8 683.1,1326.4 684.5,1330.8 C685.9,1335.3 686.9,1339.4 688.6,1343.1 C690.3,1346.9 692.7,1351.0 694.8,1353.4 C696.8,1355.8 698.9,1355.8 700.9,1357.5 C703.0,1359.2 705.4,1361.3 707.1,1363.7 C708.8,1366.1 709.8,1368.8 711.2,1371.9 C712.6,1375.0 713.9,1378.7 715.3,1382.2 C716.7,1385.6 718.0,1389.0 719.4,1392.4 C720.8,1395.9 722.2,1399.3 723.5,1402.7 C724.9,1406.1 725.9,1409.6 727.6,1413.0 C729.3,1416.4 731.7,1420.2 733.8,1423.3 C735.9,1426.3 737.9,1428.7 740.0,1431.5 C742.0,1434.2 744.1,1437.3 746.1,1439.7 C748.2,1442.1 750.2,1444.3 752.3,1445.9 C754.3,1447.4 756.4,1448.6 758.4,1448.9 C760.5,1449.3 762.6,1448.1 764.6,1447.9 C766.7,1447.7 768.7,1447.6 770.8,1447.9 C772.8,1448.2 775.1,1449.4 776.9,1450.0 C778.8,1450.5 780.4,1451.8 782.1,1451.0 C783.8,1450.1 785.3,1446.7 787.2,1444.8 C789.1,1442.9 791.3,1441.1 793.4,1439.7 C795.4,1438.3 797.5,1437.3 799.5,1436.6 C801.6,1435.9 803.6,1436.4 805.7,1435.6 C807.7,1434.7 809.8,1432.7 811.9,1431.5 C813.9,1430.3 816.0,1428.7 818.0,1428.4 C820.1,1428.0 822.1,1428.7 824.2,1429.4 C826.2,1430.1 828.3,1431.5 830.3,1432.5 C832.4,1433.5 834.1,1434.9 836.5,1435.6 C838.9,1436.3 842.3,1437.3 844.7,1436.6 C847.1,1435.9 848.8,1434.0 850.9,1431.5 C852.9,1428.9 855.0,1425.0 857.1,1421.2 C859.1,1417.4 861.5,1413.0 863.2,1408.9 C864.9,1404.8 866.0,1401.7 867.3,1396.5 C868.7,1391.4 870.2,1385.3 871.4,1378.1 C872.6,1370.9 873.5,1362.0 874.5,1353.4 C875.5,1344.9 876.7,1334.2 877.6,1326.7 C878.4,1319.2 878.1,1311.3 879.6,1308.2 C881.2,1305.1 885.5,1306.8 886.8,1308.2 C888.2,1309.6 887.0,1312.0 887.9,1316.4 C888.7,1320.9 890.6,1328.8 892.0,1334.9 C893.3,1341.1 894.7,1347.6 896.1,1353.4 C897.5,1359.2 898.8,1364.7 900.2,1369.8 C901.6,1375.0 902.6,1381.1 904.3,1384.2 C906.0,1387.3 908.1,1388.0 910.5,1388.3 C912.9,1388.7 915.9,1386.8 918.7,1386.3 C921.4,1385.8 923.8,1385.6 926.9,1385.3 C930.0,1384.9 934.4,1385.1 937.2,1384.2 C939.9,1383.4 940.9,1382.2 943.3,1380.1 C945.7,1378.1 948.8,1374.6 951.5,1371.9 C954.3,1369.2 957.0,1366.8 959.8,1363.7 C962.5,1360.6 965.6,1357.2 968.0,1353.4 C970.4,1349.6 972.1,1345.5 974.1,1341.1 C976.2,1336.6 978.2,1331.5 980.3,1326.7 C982.4,1321.9 984.4,1315.7 986.5,1312.3 C988.5,1308.9 990.2,1307.5 992.6,1306.2 C995.0,1304.8 998.4,1304.1 1000.8,1304.1 C1003.2,1304.1 1005.0,1304.8 1007.0,1306.2 C1009.1,1307.5 1011.5,1312.0 1013.2,1312.3 C1014.9,1312.7 1015.6,1309.6 1017.3,1308.2 C1019.0,1306.8 1020.1,1303.6 1023.4,1304.1 C1026.8,1304.6 1033.7,1311.0 1037.2,1311.0 C1040.7,1310.9 1042.2,1306.0 1044.4,1303.8 C1046.6,1301.6 1048.5,1300.0 1050.6,1297.6 C1052.6,1295.2 1054.7,1292.0 1056.7,1289.4 C1058.8,1286.8 1060.8,1285.3 1062.9,1282.2 C1065.0,1279.1 1067.2,1274.8 1069.1,1270.9 C1070.9,1267.0 1072.5,1263.0 1074.2,1258.6 C1075.9,1254.1 1077.6,1248.3 1079.3,1244.2 C1081.1,1240.1 1082.8,1236.6 1084.5,1233.9 C1086.2,1231.2 1088.3,1230.8 1089.6,1227.7 C1091.0,1224.6 1091.7,1219.2 1092.7,1215.4 C1093.7,1211.6 1094.8,1208.2 1095.8,1205.1 C1096.8,1202.0 1097.5,1199.6 1098.9,1196.9 C1100.2,1194.2 1102.3,1191.4 1104.0,1188.7 C1105.7,1185.9 1107.4,1183.9 1109.2,1180.4 C1110.9,1177.0 1112.9,1172.4 1114.3,1168.1 C1115.7,1163.8 1116.2,1157.6 1117.4,1154.5 C1118.6,1151.3 1120.1,1149.3 1121.5,1149.3 C1122.9,1149.3 1124.2,1150.3 1125.6,1154.5 C1127.0,1158.6 1128.5,1168.2 1129.7,1174.3 C1130.9,1180.3 1131.8,1185.6 1132.8,1190.7 C1133.8,1195.9 1134.9,1199.6 1135.9,1205.1 C1136.9,1210.6 1137.9,1218.1 1139.0,1223.6 C1140.0,1229.1 1140.8,1233.6 1142.0,1238.0 C1143.2,1242.5 1144.6,1246.6 1146.2,1250.3 C1147.7,1254.1 1149.4,1257.9 1151.3,1260.6 C1153.2,1263.4 1155.4,1265.1 1157.5,1266.8 C1159.5,1268.5 1162.1,1269.9 1163.6,1270.9 C1165.2,1271.9 1165.3,1273.3 1166.7,1273.0 C1168.1,1272.6 1170.0,1270.2 1171.9,1268.9 C1173.7,1267.5 1176.0,1266.1 1178.0,1264.7 C1180.1,1263.4 1182.1,1261.8 1184.2,1260.6 C1186.2,1259.4 1188.3,1258.4 1190.4,1257.5 C1192.4,1256.7 1194.5,1256.7 1196.5,1255.5 C1198.6,1254.3 1200.6,1252.6 1202.7,1250.3 C1204.8,1248.1 1206.8,1244.5 1208.9,1242.1 C1210.9,1239.7 1213.0,1237.7 1215.0,1236.0 C1217.1,1234.2 1218.8,1233.2 1221.2,1231.8 C1223.6,1230.5 1227.0,1228.8 1229.4,1227.7 C1231.8,1226.7 1233.5,1226.7 1235.6,1225.7 C1237.6,1224.6 1239.7,1223.3 1241.8,1221.6 C1243.8,1219.9 1245.9,1216.8 1247.9,1215.4 C1250.0,1214.0 1252.0,1215.1 1254.1,1213.3 C1256.2,1211.6 1258.2,1207.3 1260.3,1205.1 C1262.3,1202.9 1264.5,1202.0 1266.4,1200.0 C1268.3,1197.9 1269.9,1195.7 1271.6,1192.8 C1273.3,1189.9 1275.2,1185.9 1276.7,1182.5 C1278.3,1179.1 1278.8,1178.6 1280.8,1172.2 C1282.9,1165.8 1287.0,1151.9 1289.0,1144.2 C1291.1,1136.4 1291.8,1132.9 1293.2,1125.7 C1294.5,1118.5 1295.9,1108.5 1297.3,1101.0 C1298.6,1093.5 1300.0,1086.6 1301.4,1080.4 C1302.8,1074.3 1304.1,1069.1 1305.5,1064.0 C1306.9,1058.9 1308.2,1054.4 1309.6,1049.6 C1311.0,1044.8 1312.3,1039.3 1313.7,1035.2 C1315.1,1031.1 1316.1,1027.3 1317.8,1024.9 C1319.5,1022.5 1322.3,1020.8 1324.0,1020.8 C1325.7,1020.8 1326.7,1023.2 1328.1,1024.9 C1329.5,1026.6 1330.7,1028.7 1332.2,1031.1 C1333.8,1033.5 1335.6,1037.6 1337.4,1039.3 C1339.1,1041.0 1341.0,1042.1 1342.5,1041.4 C1344.0,1040.7 1345.2,1038.6 1346.6,1035.2 C1348.0,1031.8 1349.4,1026.0 1350.7,1020.8 C1352.1,1015.7 1353.5,1010.2 1354.8,1004.4 C1356.2,998.5 1357.7,992.4 1358.9,985.9 C1360.1,979.4 1361.0,971.8 1362.0,965.3 C1363.1,958.8 1364.1,953.3 1365.1,946.8 C1366.1,940.3 1367.3,934.0 1368.2,926.2 C1369.1,918.4 1368.9,912.8 1370.7,900.0 C1372.5,887.2 1376.1,867.0 1378.8,849.6 C1381.5,832.2 1384.5,813.5 1387.0,795.5 C1389.5,777.5 1391.7,759.3 1393.7,741.3 C1395.7,723.2 1397.3,699.4 1399.1,687.2 C1400.9,675.0 1402.7,668.2 1404.5,668.2 C1406.3,668.2 1408.2,677.3 1410.0,687.2 C1411.8,697.1 1413.8,714.3 1415.4,727.8 C1417.0,741.3 1417.8,754.9 1419.4,768.4 C1421.0,781.9 1423.2,795.4 1424.8,809.0 C1426.4,822.6 1427.8,840.6 1428.9,850.0 C1430.0,859.4 1430.1,859.1 1431.4,865.6 C1432.7,872.1 1434.9,882.0 1436.6,888.9 C1438.3,895.8 1439.6,900.6 1441.8,907.0 C1444.0,913.4 1447.5,922.7 1450.1,927.3 C1452.7,931.9 1455.3,934.4 1457.3,934.5 C1459.4,934.7 1461.0,931.6 1462.5,928.3 C1464.1,925.0 1465.3,920.5 1466.7,914.8 C1468.1,909.1 1469.4,901.0 1470.8,894.1 C1472.2,887.2 1473.6,879.9 1475.0,873.3 C1476.4,866.8 1477.8,858.5 1479.1,854.7 C1480.4,850.9 1481.7,850.5 1482.7,850.5 C1483.8,850.5 1484.5,851.7 1485.3,854.7 C1486.2,857.6 1487.1,862.5 1487.9,868.2 C1488.8,873.9 1489.6,881.1 1490.5,888.9 C1491.5,896.7 1492.6,906.2 1493.6,914.8 C1494.7,923.5 1495.9,929.6 1496.7,940.8 C1497.6,951.9 1498.1,971.3 1498.8,981.5 C1499.5,991.7 1500.2,995.2 1500.8,1002.0 C1501.5,1008.9 1502.2,1015.7 1502.9,1022.6 C1503.6,1029.5 1504.3,1036.3 1505.0,1043.2 C1505.6,1050.0 1506.3,1056.9 1507.0,1063.7 C1507.7,1070.6 1508.4,1078.1 1509.1,1084.3 C1509.7,1090.4 1510.3,1094.9 1511.1,1100.7 C1512.0,1106.5 1512.7,1110.4 1514.2,1119.2 C1515.7,1128.0 1518.8,1144.7 1520.4,1153.4 C1521.9,1162.2 1522.3,1166.1 1523.5,1172.0 C1524.7,1177.8 1526.2,1183.9 1527.6,1188.4 C1528.9,1192.9 1530.0,1195.6 1531.7,1198.7 C1533.4,1201.8 1535.8,1204.8 1537.8,1206.9 C1539.9,1209.0 1542.0,1209.8 1544.0,1211.0 C1546.1,1212.2 1548.1,1212.7 1550.2,1214.1 C1552.2,1215.5 1554.3,1217.7 1556.3,1219.2 C1558.4,1220.8 1560.8,1221.8 1562.5,1223.3 C1564.2,1224.9 1565.3,1226.1 1566.6,1228.5 C1568.0,1230.9 1569.4,1234.5 1570.7,1237.7 C1572.1,1241.0 1573.5,1244.6 1574.9,1248.0 C1576.2,1251.4 1577.6,1254.5 1579.0,1258.3 C1580.3,1262.1 1581.7,1266.5 1583.1,1270.6 C1584.4,1274.7 1585.8,1279.2 1587.2,1283.0 C1588.6,1286.7 1589.9,1289.8 1591.3,1293.2 C1592.7,1296.7 1594.0,1300.1 1595.4,1303.5 C1596.8,1307.0 1598.2,1310.4 1599.5,1313.8 C1600.9,1317.2 1602.1,1321.0 1603.6,1324.1 C1605.2,1327.2 1607.1,1330.4 1608.8,1332.3 C1610.5,1334.2 1612.0,1334.7 1613.9,1335.4 C1615.8,1336.1 1618.0,1336.3 1620.1,1336.4 C1622.1,1336.6 1624.2,1337.1 1626.2,1336.4 C1628.3,1335.7 1630.4,1334.4 1632.4,1332.3 C1634.5,1330.3 1636.5,1326.8 1638.6,1324.1 C1640.6,1321.3 1642.7,1317.9 1644.8,1315.9 C1646.8,1313.8 1648.9,1312.4 1650.9,1311.8 C1653.0,1311.1 1655.0,1311.2 1657.1,1311.8 C1659.1,1312.3 1661.2,1313.6 1663.3,1314.8 C1665.3,1316.0 1667.4,1317.4 1669.4,1318.9 C1671.5,1320.5 1673.5,1322.2 1675.6,1324.1 C1677.6,1326.0 1679.7,1327.9 1681.8,1330.3 C1683.8,1332.7 1685.9,1335.1 1687.9,1338.5 C1690.0,1341.9 1692.4,1347.0 1694.1,1350.8 C1695.8,1354.6 1696.8,1357.3 1698.2,1361.1 C1699.6,1364.9 1700.6,1369.3 1702.3,1373.4 C1704.0,1377.5 1706.4,1382.0 1708.5,1385.8 C1710.5,1389.5 1712.6,1393.0 1714.7,1396.0 C1716.7,1399.1 1718.4,1401.9 1720.8,1404.3 C1723.2,1406.7 1726.3,1408.7 1729.0,1410.4 C1731.8,1412.2 1734.5,1413.5 1737.3,1414.5 C1740.0,1415.6 1742.8,1416.1 1745.5,1416.6 C1748.2,1417.1 1751.3,1418.1 1753.7,1417.6 C1756.1,1417.1 1757.8,1414.7 1759.9,1413.5 C1761.9,1412.3 1763.7,1411.3 1766.1,1410.4 C1768.5,1409.6 1771.5,1408.9 1774.3,1408.4 C1777.0,1407.9 1779.8,1407.9 1782.5,1407.4 C1785.2,1406.8 1788.0,1406.0 1790.7,1405.3 C1793.5,1404.6 1796.2,1402.4 1798.9,1403.2 C1801.7,1404.1 1804.4,1409.4 1807.2,1410.4 C1809.9,1411.5 1812.7,1409.2 1815.4,1409.4 C1818.1,1409.6 1820.9,1411.0 1823.6,1411.5 C1826.4,1412.0 1829.1,1412.7 1831.8,1412.5 C1834.6,1412.3 1837.7,1411.6 1840.1,1410.4 C1842.5,1409.2 1844.2,1407.7 1846.2,1405.3 C1848.3,1402.9 1850.3,1399.3 1852.4,1396.0 C1854.5,1392.8 1856.5,1389.5 1858.6,1385.8 C1860.6,1382.0 1862.9,1377.9 1864.7,1373.4 C1866.6,1369.0 1868.3,1364.2 1869.9,1359.0 C1871.4,1353.9 1872.6,1348.8 1874.0,1342.6 C1875.4,1336.4 1876.7,1328.9 1878.1,1322.0 C1879.5,1315.2 1880.8,1308.3 1882.2,1301.5 C1883.6,1294.6 1885.0,1287.8 1886.3,1280.9 C1887.7,1274.1 1889.1,1267.9 1890.4,1260.4 C1891.8,1252.8 1892.6,1249.4 1894.5,1235.7 C1896.5,1222.0 1900.5,1191.2 1902.1,1178.1 C1903.7,1165.1 1903.6,1169.1 1904.1,1157.6 C1904.6,1146.1 1904.5,1120.6 1905.1,1109.0 C1905.8,1097.5 1907.2,1093.3 1908.2,1088.5 C1909.3,1083.7 1910.3,1081.6 1911.3,1080.3 C1912.3,1078.9 1913.4,1079.2 1914.4,1080.3 C1915.4,1081.3 1916.5,1083.7 1917.5,1086.4 C1918.5,1089.2 1919.5,1093.3 1920.6,1096.7 C1921.6,1100.1 1922.6,1103.9 1923.7,1107.0 C1924.7,1110.1 1925.7,1113.5 1926.7,1115.2 C1927.8,1116.9 1928.8,1117.6 1929.8,1117.3 C1930.8,1116.9 1931.9,1115.9 1932.9,1113.2 C1933.9,1110.4 1935.0,1105.6 1936.0,1100.8 C1937.0,1096.0 1938.0,1090.2 1939.1,1084.4 C1940.1,1078.5 1941.1,1072.0 1942.2,1065.9 C1943.2,1059.7 1944.2,1053.9 1945.2,1047.4 C1946.3,1040.8 1947.3,1033.6 1948.3,1026.8 C1949.4,1019.9 1950.2,1011.4 1951.4,1006.2 C1952.6,1001.1 1954.2,999.0 1955.5,995.9 C1956.9,992.9 1958.4,989.4 1959.6,987.7 C1960.8,986.0 1961.7,985.5 1962.7,985.7 C1963.8,985.8 1964.8,986.7 1965.8,988.7 C1966.8,990.8 1967.9,994.1 1968.9,998.0 C1969.9,1001.9 1971.0,1007.6 1972.0,1012.4 C1973.0,1017.2 1974.0,1021.6 1975.1,1026.8 C1976.1,1031.9 1977.1,1037.1 1978.1,1043.2 C1979.2,1049.4 1980.2,1056.3 1981.2,1063.8 C1982.3,1071.3 1983.3,1080.3 1984.3,1088.5 C1985.3,1096.7 1986.4,1101.6 1987.4,1113.2 C1988.4,1124.7 1989.6,1146.7 1990.5,1157.6 C1991.3,1168.4 1991.7,1171.3 1992.5,1178.1 C1993.4,1185.0 1994.6,1192.5 1995.6,1198.7 C1996.7,1204.9 1997.5,1209.7 1998.7,1215.1 C1999.9,1220.6 2001.5,1226.1 2002.8,1231.6 C2004.2,1237.1 2005.6,1246.0 2006.9,1248.1 C2008.3,1250.1 2009.5,1245.3 2011.1,1243.9 C2012.6,1242.6 2014.7,1239.5 2016.2,1239.8 C2017.7,1240.2 2019.1,1243.3 2020.3,1246.0 C2021.5,1248.7 2022.2,1252.5 2023.4,1256.3 C2024.6,1260.1 2026.1,1264.2 2027.5,1268.6 C2028.9,1273.1 2030.2,1278.6 2031.6,1283.0 C2033.0,1287.5 2034.4,1291.6 2035.7,1295.4 C2037.1,1299.1 2038.5,1302.2 2039.8,1305.6 C2041.2,1309.1 2042.6,1312.5 2044.0,1315.9 C2045.3,1319.3 2046.9,1322.4 2048.1,1326.2 C2049.3,1330.0 2050.1,1334.4 2051.2,1338.5 C2052.2,1342.7 2053.2,1347.1 2054.2,1350.9 C2055.3,1354.7 2056.1,1358.1 2057.3,1361.2 C2058.5,1364.2 2059.9,1366.6 2061.4,1369.4 C2063.0,1372.1 2064.7,1375.2 2066.6,1377.6 C2068.5,1380.0 2070.9,1382.2 2072.8,1383.8 C2074.6,1385.3 2076.3,1387.2 2077.9,1386.9 C2079.4,1386.5 2080.6,1383.6 2082.0,1381.7 C2083.4,1379.8 2084.7,1377.6 2086.1,1375.6 C2087.5,1373.5 2088.9,1370.1 2090.2,1369.4 C2091.6,1368.7 2093.1,1369.4 2094.3,1371.4 C2095.5,1373.5 2096.4,1378.0 2097.4,1381.7 C2098.5,1385.5 2099.5,1390.6 2100.5,1394.1 C2101.5,1397.5 2102.4,1400.6 2103.6,1402.3 C2104.8,1404.0 2106.0,1404.4 2107.7,1404.4 C2109.4,1404.4 2111.8,1402.0 2113.9,1402.3 C2115.9,1402.6 2118.0,1405.4 2120.1,1406.4 C2122.1,1407.4 2124.2,1408.6 2126.2,1408.5 C2128.3,1408.3 2130.7,1405.0 2132.4,1405.4 C2134.1,1405.7 2135.1,1408.6 2136.5,1410.5 C2137.9,1412.4 2138.9,1415.0 2140.6,1416.7 C2142.3,1418.4 2144.7,1419.6 2146.8,1420.8 C2148.8,1422.0 2150.9,1422.9 2153.0,1423.9 C2155.0,1424.9 2157.1,1426.1 2159.1,1427.0 C2161.2,1427.8 2162.9,1428.5 2165.3,1429.0 C2167.7,1429.5 2170.8,1429.4 2173.5,1430.1 C2176.3,1430.7 2179.3,1432.5 2181.7,1433.1 C2184.1,1433.8 2185.9,1434.5 2187.9,1434.2 C2190.0,1433.8 2192.0,1431.6 2194.1,1431.1 C2196.1,1430.6 2198.2,1430.7 2200.3,1431.1 C2202.3,1431.4 2204.4,1433.5 2206.4,1433.1 C2208.5,1432.8 2211.3,1429.9 2212.6,1429.0 C2213.9,1428.2 2213.8,1428.3 2214.0,1428.1" stroke="#CC9900"/>
</g>
<g stroke="#000" stroke-width="4.2" stroke-linecap="round" stroke-dasharray="18 23.45" fill="none">
<line x1="346.8" y1="712.4" x2="346.0" y2="1500.4"/>
<line x1="424.2" y1="854.1" x2="421.0" y2="1490.6"/>
<line x1="535.3" y1="641.1" x2="535.0" y2="1479.9"/>
<line x1="579.0" y1="510.3" x2="578.8" y2="1515.2"/>
<line x1="625.8" y1="282.1" x2="621.6" y2="1535.7"/>
<line x1="881.0" y1="970.2" x2="882.0" y2="1526.8"/>
<line x1="1122.5" y1="793.0" x2="1122.9" y2="1549.2"/>
<line x1="1401.0" y1="425.4" x2="1401.1" y2="1519.3"/>
<line x1="1645.9" y1="1069.5" x2="1645.7" y2="1532.4"/>
<line x1="1961.5" y1="740.9" x2="1958.6" y2="1528.9"/>
</g>
<text x="310.8" y="694.9" font-size="89.6" textLength="61.2" lengthAdjust="spacingAndGlyphs" style="font-family:'DejaVu Serif', 'Liberation Serif', serif">α</text>
<text x="396.2" y="857.0" font-size="89.6" textLength="61.2" lengthAdjust="spacingAndGlyphs" style="font-family:'DejaVu Serif', 'Liberation Serif', serif">α</text>
<text x="507.7" y="638.7" font-size="97" textLength="53.65" lengthAdjust="spacingAndGlyphs">β</text>
<text x="543.4" y="484.5" font-size="89.6" textLength="61.2" lengthAdjust="spacingAndGlyphs" style="font-family:'DejaVu Serif', 'Liberation Serif', serif">α</text>
<text x="604.5" y="269.1" font-size="89.6" textLength="61.2" lengthAdjust="spacingAndGlyphs" style="font-family:'DejaVu Serif', 'Liberation Serif', serif">α</text>
<text x="856.1" y="948.1" font-size="89.6" textLength="61.2" lengthAdjust="spacingAndGlyphs" style="font-family:'DejaVu Serif', 'Liberation Serif', serif">α</text>
<text x="1101.9" y="768.1" font-size="97" textLength="53.65" lengthAdjust="spacingAndGlyphs">β</text>
<text x="1369.0" y="421.0" font-size="89.6" textLength="61.2" lengthAdjust="spacingAndGlyphs" style="font-family:'DejaVu Serif', 'Liberation Serif', serif">α</text>
<text x="1621.6" y="1058.0" font-size="97" textLength="53.65" lengthAdjust="spacingAndGlyphs">β</text>
<text x="1925.7" y="720.6" font-size="89.6" textLength="61.2" lengthAdjust="spacingAndGlyphs" style="font-family:'DejaVu Serif', 'Liberation Serif', serif">α</text>
<text x="186.5" y="1670" font-size="86" text-anchor="middle" textLength="125.7" lengthAdjust="spacingAndGlyphs">700</text>
<text x="439.6" y="1670" font-size="86" text-anchor="middle" textLength="125.7" lengthAdjust="spacingAndGlyphs">800</text>
<text x="692.6" y="1670" font-size="86" text-anchor="middle" textLength="125.7" lengthAdjust="spacingAndGlyphs">900</text>
<text x="945.7" y="1670" font-size="86" text-anchor="middle" textLength="167" lengthAdjust="spacingAndGlyphs">1000</text>
<text x="1198.8" y="1670" font-size="86" text-anchor="middle" textLength="167" lengthAdjust="spacingAndGlyphs">1100</text>
<text x="1451.8" y="1670" font-size="86" text-anchor="middle" textLength="167" lengthAdjust="spacingAndGlyphs">1200</text>
<text x="1704.9" y="1670" font-size="86" text-anchor="middle" textLength="167" lengthAdjust="spacingAndGlyphs">1300</text>
<text x="1957.9" y="1670" font-size="86" text-anchor="middle" textLength="167" lengthAdjust="spacingAndGlyphs">1400</text>
<text x="2211.0" y="1670" font-size="86" text-anchor="middle" textLength="167" lengthAdjust="spacingAndGlyphs">1500</text>
<text x="758.6" y="1827.4" font-size="128" textLength="735.2" lengthAdjust="spacingAndGlyphs">Wavenumber</text>
<text x="1526.8" y="1827.4" font-size="128" textLength="204.1" lengthAdjust="spacingAndGlyphs">(cm</text>
<text x="1728.7" y="1789.5" font-size="87" textLength="83.9" lengthAdjust="spacingAndGlyphs">−1</text>
<text x="1815.15" y="1827.4" font-size="128" textLength="37.85" lengthAdjust="spacingAndGlyphs">)</text>
<text transform="translate(133.6,1356.8) rotate(-90)" x="0" y="0" font-size="153" textLength="1140.5" lengthAdjust="spacingAndGlyphs">Absorbance (a.u.)</text>
<line x1="1460.5" y1="82.0" x2="1604.5" y2="82.0" stroke="#CC9900" stroke-width="6.5" stroke-linecap="round"/>
<text x="1617.6" y="103.0" font-size="58" textLength="575.6" lengthAdjust="spacingAndGlyphs"><tspan font-style="italic">n</tspan>Au-<tspan font-style="italic">n</tspan>BT/PVDF 50 vol%</text>
<line x1="1460.5" y1="161.3" x2="1604.5" y2="161.3" stroke="#B07ADF" stroke-width="6.5" stroke-linecap="round"/>
<text x="1617.6" y="182.3" font-size="58" textLength="575.6" lengthAdjust="spacingAndGlyphs"><tspan font-style="italic">n</tspan>Au-<tspan font-style="italic">n</tspan>BT/PVDF 40 vol%</text>
<line x1="1460.5" y1="240.6" x2="1604.5" y2="240.6" stroke="#3AAD6C" stroke-width="6.5" stroke-linecap="round"/>
<text x="1617.6" y="261.6" font-size="58" textLength="575.6" lengthAdjust="spacingAndGlyphs"><tspan font-style="italic">n</tspan>Au-<tspan font-style="italic">n</tspan>BT/PVDF 30 vol%</text>
<line x1="1460.5" y1="319.9" x2="1604.5" y2="319.9" stroke="#186CDC" stroke-width="6.5" stroke-linecap="round"/>
<text x="1617.6" y="340.9" font-size="58" textLength="575.6" lengthAdjust="spacingAndGlyphs"><tspan font-style="italic">n</tspan>Au-<tspan font-style="italic">n</tspan>BT/PVDF 20 vol%</text>
<line x1="1460.5" y1="399.2" x2="1604.5" y2="399.2" stroke="#EE4040" stroke-width="6.5" stroke-linecap="round"/>
<text x="1617.6" y="420.2" font-size="58" textLength="575.6" lengthAdjust="spacingAndGlyphs"><tspan font-style="italic">n</tspan>Au-<tspan font-style="italic">n</tspan>BT/PVDF 10 vol%</text>
<line x1="1460.5" y1="478.5" x2="1604.5" y2="478.5" stroke="#505050" stroke-width="6.5" stroke-linecap="round"/>
<text x="1618" y="499.5" font-size="58" textLength="142.2" lengthAdjust="spacingAndGlyphs">PVDF</text>
</svg></body></html>
